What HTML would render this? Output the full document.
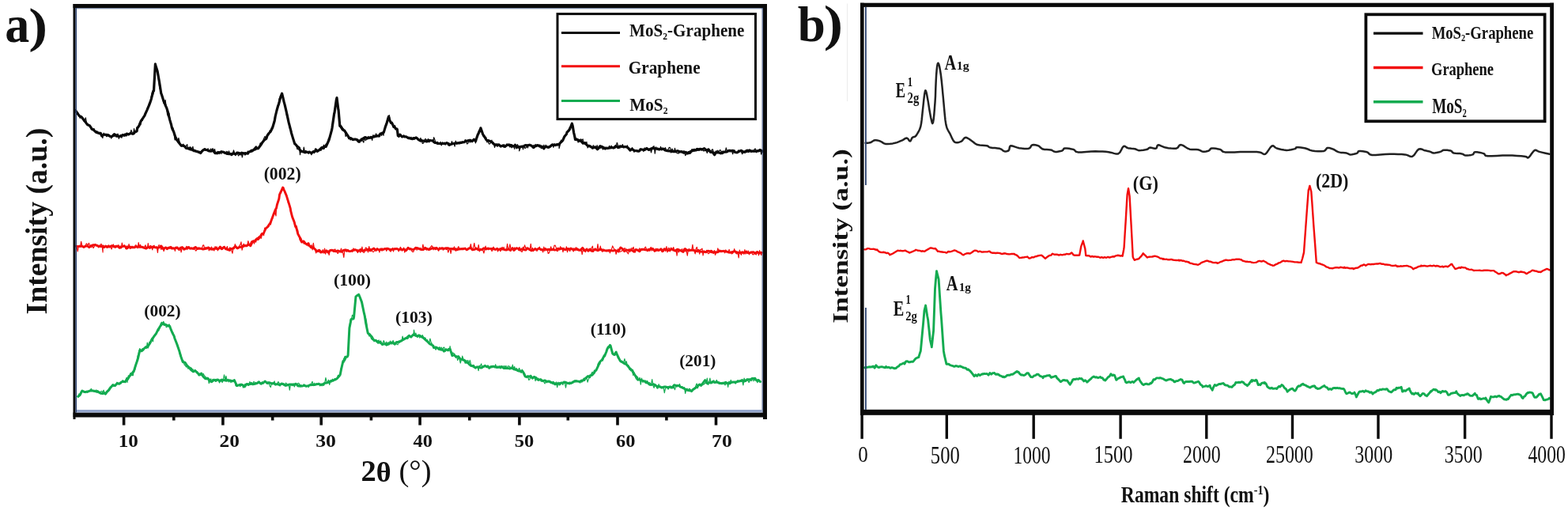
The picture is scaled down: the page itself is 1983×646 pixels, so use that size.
<!DOCTYPE html>
<html><head><meta charset="utf-8"><title>MoS2-Graphene XRD and Raman</title>
<style>html,body{margin:0;padding:0;background:#fff;overflow:hidden;width:1983px;height:646px}svg{display:block}</style>
</head><body>
<svg width="1983" height="646" viewBox="0 0 1983 646"><g fill="none" stroke-linejoin="round" stroke-linecap="round">
<path d="M95.1 139.8L97.7 143.1 100.3 146.4 102.9 147.8 104 149.1 105.5 151 108.1 154.4 110.7 157.8 113.3 158.7 115.5 161.9 115.9 163 118.5 164.4 121.1 166.9 123.7 167.9 126.3 168.6 127.2 168.3 128.9 171.8 131.5 170 134.1 170.3 136.7 170.6 139.3 172.3 141.1 172.7 141.9 172.3 144.5 169.6 147.1 172.2 149.7 172.2 152.3 172.3 154.9 171.2 155 170.5 157.5 171.3 160.1 169.1 162.7 169.9 165.3 168.4 167.9 169.3 169 169 170.5 167.1 173.1 165.8 173.6 162.2 175.7 159.3 178.3 152.9 180.9 149.2 182.9 146.2 183.5 144.5 186.1 138.9 188.7 132.6 189.9 129.4 191.3 125.2 193.9 114.8 194.5 114.8 196.4 80.8 196.5 81.8 199.1 89.9 199.2 90.4 201.7 104.8 203.8 118.3 204.3 119.2 206.9 127.4 209.5 133.8 210.8 136.7 212.1 140.7 214.7 151.4 216.6 157.7 217.3 161.1 219.9 167.2 222.4 175.1 222.5 175.6 225.1 178.8 227.7 182.2 229.4 184.3 230.3 184.1 232.9 184.5 235.5 187.3 238.1 187.4 240.7 189 241 188 243.3 189.6 245.9 190.4 248.5 191.4 251.1 192 252.6 192.6 253.7 193.4 256.3 190.3 258.9 188.7 259.6 189.4 261.5 189.5 264.1 190.7 266.7 191.2 269.3 190 271.9 193.6 274.5 193.6 275.8 192.4 277.1 192.9 279.7 192 280 191.7 282.3 192.3 284.9 193.3 287.5 194.5 290.1 194.7 291.9 194.5 292.7 195.6 295.3 193.7 297.9 195 300.5 193 303.1 193.8 305.5 193.5 305.7 193.2 308.3 193.8 310.9 193.7 313.5 194.2 314 192.5 316.1 191.8 318.7 191 321.3 189.1 323.9 185.9 324.3 187.9 326.5 187.7 329.1 184.3 331 181.5 331.7 180.3 334.3 177 336.9 175.1 337.9 171.7 339.5 169.2 342.1 166.5 344.7 161.3 347.3 152.5 348.1 147.5 349.9 140 351.5 134.2 352.5 131.7 354.9 122.3 355.1 122 356.6 118.2 357.7 122.6 359.1 128.7 360.3 133.2 361.7 139.2 362.9 144.3 365.1 154.7 365.5 156.2 368.1 166.2 368.5 168.1 370.7 175.4 372.8 181.9 373.3 181.9 375.9 185.1 378.5 187.1 378.7 188.9 381.1 191.3 383.7 191.5 385.5 192.7 386.3 191.6 388.9 192.5 391.5 192.2 394.1 193.6 396.7 191.6 399.1 190.9 399.3 188.9 401.9 191.1 404.5 189 407.1 186.4 409.4 187.4 409.7 185 412.3 185.4 414.9 179.5 416.2 176.7 417.5 171.9 419.6 164.2 420.1 161.3 422.7 143.2 423 142.8 425.3 126.4 426 123.6 427.9 138.7 428.1 139.5 429.8 159.3 430.5 159 433.1 163.6 434.9 164.9 435.7 165.1 438.3 169.2 440.9 173.1 441.7 174.6 443.5 174.5 446.1 176.4 448.7 176.1 450.2 176.2 451.3 176.7 453.6 179.1 453.9 178.1 456.5 177.5 459.1 175.2 461.7 173.5 463.8 174.2 464.3 175.1 466.9 174.2 469.5 174.2 472.1 172.8 474 172.1 474.7 172.4 477.3 171.9 479.7 171.9 479.9 170.6 482.5 168.5 485.1 167.6 485.3 167.4 487.7 159.3 488.8 156.6 490.3 151.5 491.6 147.3 492.9 152.1 494.4 155.3 495.5 155.1 498.1 160.5 499.2 160.9 500.7 163.2 502.3 163.3 503.3 171.6 503.4 171.7 505.9 170.1 508.5 173 511.1 172.2 511.8 172.7 513.7 172.9 516.3 174.4 518.9 175 521.5 175.6 522.9 174.6 524.1 174.8 526.7 174.1 529.3 176.7 531.9 178.1 532.7 177.6 534.5 178.1 537.1 178.2 539.7 179 542.3 177.5 544.9 177.7 547.5 177.8 548 178.9 550.1 180.5 552.7 180.7 553.6 181.4 555.3 181.5 557.9 181.7 560.5 181.5 563.1 181.5 565.7 180.8 567.5 181.8 568.3 183.3 570.9 182.1 573.5 181.5 576.1 181 578.7 180.9 581.3 180.9 581.4 180.4 583.9 180.3 586.5 179.8 589.1 178.4 591.7 177.9 594.3 177.2 595.3 177.5 596.9 178.7 599.5 176.3 601.6 178.4 602.1 176.5 604.4 169.9 604.7 169.5 607.3 164.2 607.9 161.8 609.9 167.6 610.7 169.9 612.5 172.5 615.1 177 616.2 177.7 617.7 177.6 620.3 178.8 622.9 180.2 623.2 180.9 625.5 182.8 628.1 182.8 630.7 183 633.3 185.1 635.9 183.9 637.1 185 638.5 185.4 641.1 183.3 643.7 183.1 646.3 183.5 648.9 185 651 184.4 651.5 183.2 654.1 186.2 656.6 186.1 656.7 185.9 659.3 185.3 661.9 185.2 664.5 183.5 667.1 183.8 669.7 183.2 672.3 184.3 672.4 184.4 674.9 186.6 677.5 184.4 680.1 183.6 682.7 185.1 685.3 185 687.9 187.9 688.5 186.4 690.5 185.3 693.1 186.2 695.7 185.3 698.3 183 700.9 183.4 703.5 183.1 706.1 182.8 707 182.6 708.7 180.4 711.3 177.9 712 176.9 713.9 172.5 716.5 169.5 717 167.3 719.1 165.4 720.7 163 721.7 160.5 723.4 156.2 724.3 159.5 725.6 167.5 726.9 173.2 727.5 176.5 729.5 176.6 731.8 177.1 732.1 178.2 734.7 178.1 737.3 181.1 739.3 180.6 739.9 180.5 742.5 183.8 744.2 184.2 745.1 184.4 747.7 186 750.3 186.8 752.9 185.8 755.5 188.8 758.1 186.4 759 184.8 760.7 185.3 763.3 186.5 765.3 188.1 765.9 187.1 768.5 187.3 771.1 186.9 773.7 186.4 776.3 187 777.6 185.6 778.9 184.5 781.5 186.6 784.1 184.8 786.7 185.3 789.3 185.6 790 185.6 791.9 185.5 794.5 187.1 797.1 190.1 798.7 188.6 799.7 188.9 802.3 190.4 804.9 190.6 807.5 191.1 808.6 190.9 810.1 188.7 812.7 189.2 815.3 189.5 817.9 187.5 820.5 189.5 823.1 188.3 824.7 187.5 825.7 187.7 828.3 187.7 830.9 188.3 833.5 188.9 836.1 188.2 838.7 188 839.6 188.6 841.3 190 843.9 190.6 846.5 190.8 849.1 191.1 851.7 191.6 854.3 191.3 854.4 191.5 856.9 190.7 859.5 191.8 862.1 191.6 864.7 193.2 867.3 192.4 869.7 193.9 869.9 193.5 872.5 193.3 875.1 190.5 877.7 189.4 880.3 189.9 881.8 188.3 882.9 189.1 885.5 188.4 888.1 188.9 890.7 187.6 893.3 189.9 895.8 189.4 895.9 188.8 898.5 192.4 901.1 192.2 903.7 195.7 905 193.3 906.3 192.7 908.9 192.8 911.5 193.8 914.1 192.1 916.7 192.1 919.3 191.9 921.9 190.3 923.6 190.9 924.5 190.6 927.1 190.4 929.7 192.5 932.3 192.8 933 192.3 934.9 191.4 937.5 190.3 940.1 192.3 942.7 191.6 945.3 190.1 946.9 191.4 947.9 190 950.5 191.1 953.1 191.1 955.7 191.1 958.3 190.8 960.8 190.4 960.9 189.5 963.5 190.8 966 191.7" stroke="#0a0a0a" stroke-width="3.2"/>
<path d="M95.1 140.5L96.3 138.5 97.5 141.3 98.7 142.4 99.9 145.8 101.1 149.3 102.3 148.3 103.5 147 104 149 104.7 150.1 105.9 153.2 107.1 152.9 108.3 148.9 109.5 155.2 110.7 157.2 111.9 157 113.1 159.6 114.3 161.4 115.5 163 116.7 162.9 117.9 163 119.1 162.7 120.3 166.6 121.5 166.1 122.7 165.7 123.9 167.2 125.1 169.5 126.3 168.2 127.2 169.7 127.5 171.9 128.7 172.3 129.9 174.5 131.1 168.1 132.3 171.1 133.5 169.7 134.7 172.7 135.9 171.6 137.1 172.1 138.3 172.8 139.5 171.4 140.7 175.1 141.1 172.4 141.9 172.8 143.1 171.8 144.3 172.4 145.5 169.3 146.7 169.6 147.9 170.5 149.1 169.1 150.3 175.5 151.5 172 152.7 170.3 153.9 174.3 155 170.5 155.1 169.6 156.3 171.7 157.5 169.1 158.7 171 159.9 172 161.1 170.2 162.3 170.8 163.5 170 164.7 168.7 165.9 164.4 167.1 167.5 168.3 169.3 169 166.8 169.5 162.6 170.7 167 171.9 167.1 173.1 160.7 173.6 162 174.3 161.4 175.5 159.8 176.7 154.5 177.9 157.9 179.1 151.3 180.3 152.4 181.5 148.2 182.7 147.1 182.9 146.9 183.9 144.9 185.1 141.2 186.3 136.5 187.5 134.3 188.7 130.2 189.9 130.7 191.1 122.9 192.3 116.9 193.5 119.8 194.5 114.1 194.7 109.4 195.9 90.9 196.4 80.5 197.1 82.3 198.3 88.1 199.2 90.4 199.5 91.3 200.7 102.1 201.9 111.7 203.1 114.1 203.8 117.4 204.3 119.6 205.5 122.1 206.7 130.5 207.9 130.4 209.1 126.3 210.3 135.9 210.8 137.1 211.5 144.2 212.7 147.5 213.9 143.1 215.1 152.1 216.3 154.6 216.6 157.6 217.5 164.6 218.7 161.2 219.9 167.1 221.1 176.9 222.3 174.9 222.4 175.5 223.5 173.9 224.7 179.8 225.9 174.3 227.1 179.2 228.3 183.8 229.4 184.6 229.5 183.1 230.7 183.4 231.9 182.1 233.1 185.4 234.3 185.5 235.5 184.5 236.7 182.6 237.9 189.1 239.1 187.6 240.3 185.5 241 187 241.5 186.9 242.7 187.8 243.9 185.4 245.1 191.8 246.3 190.7 247.5 189.9 248.7 191.5 249.9 191.8 251.1 193.6 252.3 192.6 252.6 193 253.5 194.6 254.7 190.9 255.9 190 257.1 188.7 258.3 189.2 259.5 187.8 259.6 187.9 260.7 189.7 261.9 190.3 263.1 187.7 264.3 191.8 265.5 189.7 266.7 188.1 267.9 189.9 269.1 187.6 270.3 191.7 271.5 188.5 272.7 193.6 273.9 192.1 275.1 194.9 275.8 192.7 276.3 193.6 277.5 194.6 278.7 192 279.9 194.5 280 191.8 281.1 192.6 282.3 191.3 283.5 193.6 284.7 194.1 285.9 192.4 287.1 191.3 288.3 193.7 289.5 190.9 290.7 194 291.9 194 293.1 193.3 294.3 194 295.5 189.9 296.7 193.4 297.9 196.7 299.1 192.1 300.3 193.8 301.5 197 302.7 195.3 303.9 195.6 305.1 196 305.5 193.3 306.3 198.8 307.5 194.2 308.7 194 309.9 196.2 311.1 194.6 312.3 193.2 313.5 191 314 192.7 314.7 192.2 315.9 190.7 317.1 189.8 318.3 189 319.5 189.9 320.7 188.5 321.9 189.6 323.1 190 324.3 187.9 325.5 186.7 326.7 188.2 327.9 185.6 329.1 180.9 330.3 181.1 331 181.8 331.5 179.5 332.7 178.5 333.9 174.5 335.1 172.4 336.3 175.5 337.5 173.1 337.9 170.7 338.7 170.4 339.9 170.8 341.1 164.8 342.3 165.7 343.5 161.1 344.7 160.8 345.9 156.6 347.1 150.9 348.1 147 348.3 147 349.5 142.7 350.7 135.5 351.5 134.5 351.9 134.6 353.1 124.5 354.3 124.4 354.9 120.8 355.5 120.3 356.6 119.8 356.7 118.4 357.9 124.6 359.1 128.7 360.3 133.4 361.5 137 361.7 140.3 362.7 147.7 363.9 147.2 365.1 155.5 366.3 162 367.5 163.8 368.5 167.8 368.7 167.5 369.9 174.6 371.1 175.8 372.3 178.9 372.8 182.1 373.5 182.1 374.7 183.8 375.9 188.6 377.1 188.1 378.3 187 378.7 188.7 379.5 195.6 380.7 189.5 381.9 192.2 383.1 193.1 384.3 186.2 385.5 192.1 386.7 193.6 387.9 192.3 389.1 193.4 390.3 194.3 391.5 192.9 392.7 193.5 393.9 195.8 395.1 191.2 396.3 192.1 397.5 193.7 398.7 190.1 399.1 191.7 399.9 191 401.1 192.5 402.3 190.3 403.5 188.9 404.7 187.6 405.9 190.4 407.1 187.9 408.3 188.5 409.4 187 409.5 183.2 410.7 185.9 411.9 182.4 413.1 181.9 414.3 180.3 415.5 174.6 416.2 176.4 416.7 174.8 417.9 171.3 419.1 168 419.6 164.4 420.3 159.8 421.5 153.4 422.7 141.5 423 143.5 423.9 135.4 425.1 131.7 426 123.9 426.3 129.2 427.5 136.5 428.1 139.9 428.7 143.5 429.8 159.7 429.9 160.3 431.1 161.8 432.3 160 433.5 161.9 434.7 163.2 434.9 164.8 435.9 164.7 437.1 172.3 438.3 171.4 439.5 170.9 440.7 175.7 441.7 175.1 441.9 174.5 443.1 176.9 444.3 176 445.5 174.8 446.7 177.7 447.9 175.4 449.1 176.2 450.2 176.3 450.3 176.3 451.5 176 452.7 176 453.6 179.2 453.9 179.6 455.1 180.3 456.3 175.1 457.5 175 458.7 178 459.9 180.1 461.1 173.3 462.3 177.6 463.5 175.7 463.8 174 464.7 174.3 465.9 172.4 467.1 175.1 468.3 172.5 469.5 172.3 470.7 177.3 471.9 170.7 473.1 174.2 474 172.1 474.3 173.6 475.5 168.8 476.7 171.7 477.9 171.2 479.1 172.8 479.7 171.1 480.3 168 481.5 169.9 482.7 171.3 483.9 168.3 485.1 171.3 485.3 167 486.3 164.3 487.5 160.1 488.7 155.1 488.8 156.8 489.9 150.4 491.1 147 491.6 147 492.3 145.5 493.5 154.7 494.4 155.2 494.7 156.7 495.9 156.5 497.1 160.8 498.3 160 499.2 161.2 499.5 158.5 500.7 163.3 501.9 161.8 502.3 163.1 503.1 170.1 503.4 171.8 504.3 173.6 505.5 172.5 506.7 170.6 507.9 172.5 509.1 172.7 510.3 170.7 511.5 173.9 511.8 173.6 512.7 173.5 513.9 173.5 515.1 174.3 516.3 175.6 517.5 173.1 518.7 175.8 519.9 173.2 521.1 175.6 522.3 175.8 522.9 174.4 523.5 176.3 524.7 175.9 525.9 173 527.1 175.4 528.3 175.5 529.5 175.4 530.7 177.9 531.9 174.4 532.7 177.8 533.1 176 534.3 181.5 535.5 181 536.7 178.7 537.9 175.4 539.1 176.5 540.3 177.9 541.5 175.5 542.7 179.9 543.9 178.2 545.1 178.3 546.3 178.5 547.5 177.3 548 177.9 548.7 173.6 549.9 176.7 551.1 180.4 552.3 181.8 553.5 180.9 553.6 179.4 554.7 180.8 555.9 181.5 557.1 179.3 558.3 183.8 559.5 179.7 560.7 181.7 561.9 179.9 563.1 183.3 564.3 179.7 565.5 180.4 566.7 183.8 567.5 181.4 567.9 181 569.1 182.8 570.3 182.3 571.5 178.6 572.7 182.5 573.9 180.9 575.1 185.2 576.3 178.2 577.5 182.3 578.7 181.6 579.9 180.1 581.1 179.9 581.4 180.8 582.3 179.3 583.5 179.6 584.7 178.6 585.9 179.9 587.1 180.6 588.3 176.5 589.5 179 590.7 182 591.9 181 593.1 177 594.3 180.1 595.3 177.6 595.5 178.6 596.7 178.3 597.9 178.5 599.1 177.6 600.3 176.7 601.5 181 601.6 179.2 602.7 175 603.9 171.3 604.4 170 605.1 166.2 606.3 163.7 607.5 163.4 607.9 162.3 608.7 163.8 609.9 166.1 610.7 169.6 611.1 172.4 612.3 173.5 613.5 174.1 614.7 173.3 615.9 179.9 616.2 178 617.1 178.7 618.3 181.8 619.5 181.9 620.7 180.4 621.9 177.1 623.1 181.6 623.2 180.7 624.3 180.4 625.5 186.5 626.7 183.2 627.9 184 629.1 185.4 630.3 182.4 631.5 182.1 632.7 183.8 633.9 184.5 635.1 184.7 636.3 185.5 637.1 184.1 637.5 182.5 638.7 184.9 639.9 185.5 641.1 181.8 642.3 184.4 643.5 182.1 644.7 186 645.9 185.1 647.1 186.8 648.3 183.5 649.5 184 650.7 188.4 651 184.8 651.9 185.4 653.1 187.9 654.3 182.6 655.5 184.3 656.6 185.5 656.7 190.8 657.9 187.5 659.1 185.9 660.3 184.1 661.5 188.9 662.7 183.4 663.9 187.5 665.1 186.9 666.3 185.2 667.5 186.9 668.7 182.6 669.9 183.3 671.1 183.6 672.3 184.5 672.4 183.8 673.5 186.9 674.7 183.6 675.9 184 677.1 182.5 678.3 185.6 679.5 184.4 680.7 183.9 681.9 183.2 683.1 183.1 684.3 187.6 685.5 187.2 686.7 186.5 687.9 183.2 688.5 186.5 689.1 186.9 690.3 183.2 691.5 186.6 692.7 186.6 693.9 187.1 695.1 186.6 696.3 183.6 697.5 184.9 698.7 181.9 699.9 186.4 701.1 181.5 702.3 184.7 703.5 182 704.7 181.7 705.9 181.3 707 183.1 707.1 187.6 708.3 183 709.5 177.1 710.7 179.9 711.9 178.6 712 178 713.1 173.8 714.3 173 715.5 171.3 716.7 168 717 167.5 717.9 165.1 719.1 164.4 720.3 160.9 720.7 163.1 721.5 159.7 722.7 157.7 723.4 155.4 723.9 157.6 725.1 165.6 725.6 166.4 726.3 168.8 727.5 176.2 728.7 174.8 729.9 175 731.1 180.1 731.8 177.2 732.3 176.5 733.5 176.6 734.7 175.8 735.9 177.1 737.1 175.8 738.3 181.2 739.3 180.5 739.5 182.5 740.7 181.8 741.9 179.4 743.1 186.9 744.2 184.8 744.3 186 745.5 183.8 746.7 184.1 747.9 184.9 749.1 188.5 750.3 183.6 751.5 187.6 752.7 187.1 752.9 185.3 753.9 188.5 755.1 183.7 756.3 187.3 757.5 184.7 758.7 184 759 183.9 759.9 187.5 761.1 185.3 762.3 189 763.5 188.2 764.7 187.6 765.3 188.5 765.9 187.4 767.1 188.4 768.3 188.3 769.5 187.4 770.7 184.3 771.9 187.7 773.1 184.1 774.3 187.1 775.5 187.7 776.7 187.2 777.6 185.5 777.9 187.5 779.1 185.3 780.3 180.3 781.5 183.6 782.7 187.4 783.9 186.9 785.1 186.7 786.3 184.7 787.5 182.6 788.7 187 789.9 185.5 790 185.4 791.1 185 792.3 185.5 793.5 183.8 794.7 188.4 795.9 189 797.1 189.7 798.3 188 798.7 188.2 799.5 186.6 800.7 188.7 801.9 192.3 803.1 191.2 804.3 189.9 805.5 190.9 806.7 191.7 807.9 190.7 808.6 190.8 809.1 190.9 810.3 189.4 811.5 188.2 812.7 189 813.9 191.6 815.1 186.8 816.3 188.5 817.5 188.3 818.7 188.8 819.9 187.8 821.1 189.6 822.3 187.4 823.5 192.9 824.7 188 825.9 185.3 827.1 184.7 828.3 194.1 829.5 185.8 830.7 187.9 831.9 186.9 833.1 187.7 834.3 189.7 835.5 185.3 836.7 190 837.9 189.4 839.1 188.7 839.6 189.9 840.3 188.1 841.5 186.6 842.7 190 843.9 189.8 845.1 188.7 846.3 186.3 847.5 186.9 848.7 193.1 849.9 188 851.1 190.1 852.3 192.3 853.5 187.4 854.4 191.4 854.7 192.4 855.9 193.3 857.1 193.9 858.3 193.9 859.5 191.9 860.7 191.7 861.9 191.9 863.1 193.3 864.3 190.9 865.5 190.9 866.7 196.7 867.9 194.6 869.1 194.9 869.7 193.1 870.3 191.5 871.5 191.8 872.7 190.7 873.9 190.5 875.1 188.5 876.3 191.7 877.5 190.8 878.7 191.1 879.9 189.4 881.1 187.7 881.8 189.6 882.3 190.2 883.5 189.7 884.7 190.3 885.9 188.3 887.1 190.2 888.3 187.8 889.5 190.8 890.7 190.7 891.9 190.6 893.1 190 894.3 193.5 895.5 189.9 895.8 191.4 896.7 189.1 897.9 191.5 899.1 192.1 900.3 189.2 901.5 188.9 902.7 195.1 903.9 192.2 905 192.8 905.1 191.1 906.3 191.2 907.5 190.1 908.7 192.1 909.9 190 911.1 189.6 912.3 192.1 913.5 194.7 914.7 194.1 915.9 191.5 917.1 192.3 918.3 186.9 919.5 191.2 920.7 189.9 921.9 191.1 923.1 189.2 923.6 190.5 924.3 190.7 925.5 191 926.7 194.8 927.9 190.1 929.1 189.8 930.3 193 931.5 193 932.7 193.4 933 192.2 933.9 189.7 935.1 191.5 936.3 189.9 937.5 191.9 938.7 194.8 939.9 191.3 941.1 191.9 942.3 193.5 943.5 189.4 944.7 192.8 945.9 190.9 946.9 191 947.1 190.7 948.3 189.6 949.5 192.6 950.7 191.3 951.9 190.2 953.1 191.7 954.3 188.3 955.5 188.2 956.7 192.9 957.9 189.6 959.1 191.8 960.3 188.9 960.8 188.8 961.5 188.7 962.7 195.2 963.9 191.8 965.1 190.5 966 191" stroke="#0a0a0a" stroke-width="1.2"/>
<path d="M96 311.2L98.4 311.7 100.8 311.2 103.2 311 105.6 312.2 108 311.3 110.4 310.9 112.8 312.7 115.2 310.6 117.6 309.8 120 309.7 122.4 310.4 124.8 311.4 127.2 311.5 129.6 311.6 130.2 311.1 132 312.2 134.4 311.4 136.8 312.1 139.2 311.6 141.6 310.6 144 311.9 146.4 311.3 148.8 311.2 151.2 313.3 153.6 312.3 156 311.2 158.4 311.7 160.8 314 163.2 311.7 165.6 312.7 168 312.7 170.4 312.7 170.5 312.4 172.8 311.9 175.2 312 177.6 312.4 180 312.3 182.4 313.4 184.8 314.2 187.2 312 189.6 313.4 192 312.1 194.4 312.5 196.8 312.9 199.2 313.3 201.6 312.9 204 311 206.4 314.8 208.8 313.3 210.7 313.4 211.2 314.3 213.6 313.1 216 312.3 218.4 314.1 220.8 314 223.2 312.9 225.6 314.4 228 314 230.4 312.6 232.8 315.2 235.2 313.9 237.6 312.6 240 314.1 242.4 313.8 244.8 314.5 247.2 312.4 249.6 314.6 251 313.9 252 314.3 254.4 314.3 256.8 315 259.2 314.5 261.6 314 264 313.2 266.4 315 268.8 315 271.2 314.4 273.6 314.3 276 314.9 278.4 312 280.8 314.7 283.2 312.2 285.6 314.7 288 315.5 290.4 316.4 291.2 314.5 292.8 314.7 295.2 313.8 297.6 311.4 300 313.7 302.4 312.5 304.8 312.2 307.2 310.8 307.3 311.6 309.6 310.7 312 310.8 314.4 308.9 316.8 310.8 319.2 306.2 321.4 305.5 321.6 305.4 324 302.5 326.4 302.5 328.8 299.5 331.2 295.6 331.4 296.5 333.6 294.5 336 288.8 338.4 286.9 340.8 283.2 341.5 283.1 343.2 278.6 345.6 271.9 348 265.8 349.6 262.8 350.4 258.7 352.8 251.5 353.6 245.8 355.2 242.5 357.6 237.1 360 241.9 362.4 247.6 362.6 248.4 364.8 255.4 367.2 263.3 367.7 266.7 369.6 274.1 372 280.2 373.7 286.6 374.4 286.1 376.8 295.8 379.2 300.1 379.7 302.5 381.6 306.1 384 304.9 386.4 308 388.8 308.9 389.8 310.1 391.2 310.4 393.6 313.1 396 313 398.4 315.1 400.8 317.7 401.9 317.6 403.2 316.4 405.6 319 408 317.8 410.4 318.9 412.8 316.7 415.2 319.2 417.6 316.4 420 316.1 422 317.5 422.4 317.3 424.8 317.8 427.2 316.9 429.6 317.9 432 318.4 434.4 316.5 436.8 315.8 439.2 316.5 441.6 317.6 444 317.4 446.4 316.3 448.8 315.6 451.2 316.4 453.6 317.2 456 315.5 458.4 317.3 460.8 316.2 463.2 316.1 465.6 315.2 468 316.9 470.4 315.6 472.8 314.1 475.2 316.1 477.6 314.9 480 316.2 482.4 315.2 483 314.8 484.8 315.2 487.2 314.6 489.6 314.2 492 315 494.4 315.7 496.8 315 499.2 314.8 501.6 314.4 504 315.4 506.4 315.1 508.8 315.7 511.2 315.1 513.6 316.7 516 313.3 518.4 314.7 520.8 315.2 523.2 315.5 525.6 313.3 528 313.6 530.4 314.6 532.8 315.6 535.2 315.6 537.6 313.2 540 314.7 542.4 315.6 544.8 314.6 547.2 313.6 549.6 313.8 552 313.3 554.4 315.5 556 314.3 556.8 314.1 559.2 313.7 561.6 314.4 564 313.7 566.4 313.6 568.8 314.5 571.2 314.4 573.6 315 576 314.7 578.4 315.7 580.8 314.6 583.2 314.9 585.6 314.9 588 314 590.4 315.8 592.8 314.2 595.2 313.3 597.6 315.9 600 315.4 602.4 314.3 604.8 315.7 607.2 315.7 609.6 315.5 612 313.8 614.4 315.1 616.8 314 619.2 314.4 621.6 314.5 624 314.2 626.4 315.5 628.8 314.3 629 315.2 631.2 315.2 633.6 314.5 636 315.2 638.4 315.7 640.8 316.1 643.2 314.8 645.6 316.6 648 313.8 650.4 316.2 652.8 313.8 655.2 314.1 657.6 316.1 660 314.8 662.4 315.5 664.8 316.1 667.2 313.7 669.6 315.4 672 316.8 674.4 315.8 676.8 315.1 679.2 315.5 681.6 313.9 684 315.7 686.4 316.2 688.8 314.8 691.2 315.6 693.6 315.3 696 315.7 698.4 315.8 700 314.7 700.8 316.1 703.2 315.9 705.6 314.2 708 315 710.4 314 712.8 315.1 715.2 315.7 717.6 314.4 720 314.8 722.4 314.8 724.8 315 727.2 315 729.6 314.8 732 316.3 734.4 315.7 736.8 313.4 739.2 316.9 741.6 315.5 744 316.9 746.4 315 748.8 317.5 751.2 315.8 753.6 315.5 756 316.7 758.4 315.2 760.8 315.5 763 316.6 763.2 316.1 765.6 316.9 768 316.6 770.4 316.7 772.8 316.6 775.2 317.1 777.6 316.4 780 317.4 782.4 317.2 784.8 312.9 787.2 314.7 789.6 317.7 792 315.9 794.4 316.4 796.8 316.1 799.2 316.4 801.6 318.2 804 315.5 806.4 316.2 808.8 317.7 811.2 315.1 813.6 315.3 816 315.8 818.4 316 820.8 316.3 823.2 314.2 825.6 314.5 828 317.4 830.4 315.7 832.8 316.6 835.2 315.5 836 315.1 837.6 317.8 840 314.8 842.4 315.2 844.8 316.7 847.2 316.2 849.6 314.8 852 316.4 854.4 317 856.8 315.1 859.2 316 861.6 317.3 864 318.4 866.4 314.6 868.8 316.2 871.2 316.9 873.6 316.1 876 316.2 878.4 316.7 880.8 317.6 883.2 316.3 885.6 318.1 888 318.2 890.4 318.2 892.8 318.9 895.2 317.1 897.6 317.6 900 318.7 902.4 319 904.8 318.8 907.2 318.9 909 317.9 909.6 316.9 912 317.7 914.4 317.4 916.8 317.8 919.2 318 921.6 319.1 924 319.2 926.4 318.5 928.8 317.5 931.2 318.6 933.6 319.1 936 319.5 938.4 319 940.8 319.6 943.2 318.4 945.6 319.6 948 319.8 950.4 318.9 952.8 318.6 955.2 320.4 957.6 318.5 960 320.1 962.4 319.3 963.4 319.4" stroke="#f20d0d" stroke-width="2.9"/>
<path d="M96 311.9L97.1 311.3 98.2 318 99.3 312.5 100.4 311.8 101.5 312.3 102.6 305.3 103.7 310 104.8 312.3 105.9 313.1 107 312.8 108.1 310.8 109.2 307.9 110.3 308.7 111.4 309.5 112.5 307.4 113.6 310.9 114.7 310.5 115.8 312.8 116.9 309.4 118 313.6 119.1 312 120.2 308.7 121.3 308.9 122.4 309.8 123.5 309.6 124.6 313 125.7 310.2 126.8 309.9 127.9 308.3 129 310.4 130.1 318.9 130.2 310.2 131.2 313.5 132.3 313.2 133.4 310 134.5 312.9 135.6 313.4 136.7 310.3 137.8 309.9 138.9 313.1 140 311.7 141.1 315 142.2 311.9 143.3 308.9 144.4 311.1 145.5 313.4 146.6 312.7 147.7 312.6 148.8 310.6 149.9 309.7 151 313.1 152.1 310.8 153.2 313.8 154.3 307.2 155.4 311.1 156.5 310.6 157.6 309.7 158.7 314.2 159.8 315 160.9 310.6 162 313.4 163.1 308.5 164.2 314.3 165.3 314.1 166.4 311.4 167.5 311.4 168.6 312.6 169.7 313 170.5 312 170.8 310.6 171.9 309.7 173 311.5 174.1 313.8 175.2 306.6 176.3 312.9 177.4 309.3 178.5 311.8 179.6 311.8 180.7 313.7 181.8 312.4 182.9 312.1 184 309.8 185.1 314.5 186.2 314.5 187.3 307.5 188.4 314 189.5 311.1 190.6 310.5 191.7 312.6 192.8 315.9 193.9 310.7 195 310.2 196.1 313.6 197.2 312.1 198.3 311.9 199.4 319.4 200.5 310 201.6 309.9 202.7 310.6 203.8 315.5 204.9 313.6 206 312.3 207.1 317.6 208.2 314.8 209.3 312.2 210.4 312.3 210.7 315.5 211.5 315.6 212.6 314.8 213.7 313.1 214.8 314.3 215.9 313.9 217 315 218.1 314.4 219.2 312.8 220.3 313.5 221.4 317.3 222.5 312.4 223.6 313.8 224.7 312 225.8 316 226.9 316.6 228 312.1 229.1 318.9 230.2 314 231.3 313.9 232.4 313.2 233.5 314.2 234.6 315.6 235.7 311.4 236.8 315.6 237.9 313.2 239 311.6 240.1 313.6 241.2 314.9 242.3 313.5 243.4 314.3 244.5 313.1 245.6 312.7 246.7 315.6 247.8 317.2 248.9 315.6 250 314.3 251 313.5 251.1 313.3 252.2 313.2 253.3 313.7 254.4 313.7 255.5 313.6 256.6 310.2 257.7 309.9 258.8 314.5 259.9 312.7 261 312.9 262.1 313.7 263.2 311.9 264.3 316.9 265.4 314.1 266.5 313.8 267.6 312.1 268.7 315.8 269.8 315.5 270.9 317 272 311.6 273.1 312.7 274.2 311.9 275.3 316.9 276.4 313.1 277.5 314.2 278.6 314.1 279.7 315.4 280.8 315.5 281.9 312.5 283 313.3 284.1 311.3 285.2 315.6 286.3 314.3 287.4 311.5 288.5 316.6 289.6 314.7 290.7 312.8 291.2 314.4 291.8 313.5 292.9 317.1 294 320.2 295.1 312.9 296.2 314.6 297.3 308.7 298.4 312.7 299.5 314.4 300.6 314.7 301.7 314.2 302.8 310.6 303.9 309.2 305 305.8 306.1 316.2 307.2 312.2 307.3 311.2 308.3 308.2 309.4 311.1 310.5 309.5 311.6 310.8 312.7 309.8 313.8 304.6 314.9 308.2 316 309.5 317.1 306.4 318.2 304.8 319.3 304.4 320.4 303.7 321.4 306.8 321.5 308.2 322.6 303.5 323.7 306.1 324.8 300.6 325.9 300.6 327 299.2 328.1 299.2 329.2 299.8 330.3 301.3 331.4 296.9 332.5 294.8 333.6 297.8 334.7 288.2 335.8 291.1 336.9 287.3 338 287.8 339.1 286.7 340.2 286 341.3 281.2 341.5 282.7 342.4 283.8 343.5 276 344.6 276.6 345.7 271 346.8 270.9 347.9 268.5 349 273 349.6 262.6 350.1 259 351.2 255.7 352.3 252.4 353.4 248 353.6 246.1 354.5 245.1 355.6 242.9 356.7 241 357.6 237.3 357.8 236.8 358.9 236.8 360 242.9 361.1 244.2 362.2 247.3 362.6 247.9 363.3 252.2 364.4 256.6 365.5 257.3 366.6 259.9 367.7 266.5 368.8 272.6 369.9 274.5 371 278.4 372.1 278.6 373.2 283.9 373.7 286.8 374.3 288.9 375.4 291.1 376.5 290.3 377.6 298.6 378.7 300.1 379.7 300.8 379.8 300.2 380.9 301.1 382 304.2 383.1 305 384.2 308.3 385.3 305.9 386.4 307.5 387.5 310 388.6 308.1 389.7 306.6 389.8 310.3 390.8 307 391.9 310.8 393 312.1 394.1 309.7 395.2 316 396.3 307.3 397.4 313.8 398.5 315.4 399.6 319.9 400.7 317.2 401.8 316.3 401.9 316.8 402.9 317.1 404 315.4 405.1 316.5 406.2 317.7 407.3 319.9 408.4 315.6 409.5 320.1 410.6 314.1 411.7 321.2 412.8 316.5 413.9 319.3 415 316.8 416.1 322.5 417.2 317.6 418.3 317 419.4 316.4 420.5 316.7 421.6 317.8 422 315.6 422.7 316.4 423.8 314.9 424.9 317.6 426 318.4 427.1 320.5 428.2 319.2 429.3 317.3 430.4 317.5 431.5 314.1 432.6 318.3 433.7 319.4 434.8 325.4 435.9 315.9 437 316.9 438.1 318.3 439.2 317.9 440.3 315.7 441.4 316.9 442.5 318.6 443.6 317.7 444.7 316.6 445.8 318.5 446.9 313.9 448 317.3 449.1 315.3 450.2 315.8 451.3 317.9 452.4 319.5 453.5 317.1 454.6 316.5 455.7 319.2 456.8 317.5 457.9 312.1 459 318.1 460.1 319.5 461.2 318.4 462.3 313.2 463.4 313.4 464.5 316.2 465.6 319 466.7 311.5 467.8 315.9 468.9 314.3 470 317.5 471.1 317.9 472.2 318.6 473.3 317.3 474.4 314.4 475.5 317.6 476.6 313.7 477.7 314.2 478.8 314.9 479.9 319 481 313.9 482.1 316.6 483 315.2 483.2 317.2 484.3 316.1 485.4 316.1 486.5 313.6 487.6 314.4 488.7 317.4 489.8 315.2 490.9 313.9 492 314.4 493.1 317.4 494.2 318.1 495.3 315.8 496.4 313.5 497.5 318 498.6 313.8 499.7 315.2 500.8 315.7 501.9 315 503 314.6 504.1 317.9 505.2 315.5 506.3 312.4 507.4 313.9 508.5 317.3 509.6 314.6 510.7 313.1 511.8 319.1 512.9 315.7 514 314.9 515.1 315.9 516.2 314.2 517.3 315.2 518.4 315.9 519.5 313.8 520.6 317.1 521.7 318.4 522.8 318.5 523.9 314.9 525 315.5 526.1 312.6 527.2 316.2 528.3 313.3 529.4 315.6 530.5 314.8 531.6 313.3 532.7 315.8 533.8 315 534.9 309.2 536 314.1 537.1 315.3 538.2 314.8 539.3 316.2 540.4 313.6 541.5 315 542.6 313.8 543.7 313.4 544.8 312 545.9 310.7 547 311.7 548.1 315.8 549.2 313.7 550.3 315.6 551.4 315.5 552.5 313.3 553.6 314.7 554.7 317.3 555.8 312.7 556 315.1 556.9 314.3 558 315.1 559.1 313.8 560.2 316.1 561.3 315.5 562.4 313.8 563.5 314.7 564.6 315.5 565.7 314.4 566.8 319.1 567.9 315.7 569 314 570.1 320.3 571.2 315.2 572.3 313.8 573.4 314.1 574.5 311.9 575.6 316.1 576.7 317.4 577.8 314.6 578.9 313.3 580 311.7 581.1 315.9 582.2 314.8 583.3 313.7 584.4 314.5 585.5 313.3 586.6 314.5 587.7 314.4 588.8 315.2 589.9 315 591 315.2 592.1 313.4 593.2 314.4 594.3 312.7 595.4 308.7 596.5 314.8 597.6 315.7 598.7 312.5 599.8 307.3 600.9 314 602 312.8 603.1 314.4 604.2 314.6 605.3 309.5 606.4 317.8 607.5 314.2 608.6 315.4 609.7 314.5 610.8 316.5 611.9 320 613 315.4 614.1 311.2 615.2 314.9 616.3 313.8 617.4 315.8 618.5 315 619.6 314.1 620.7 314.2 621.8 317.3 622.9 317 624 312.1 625.1 314.3 626.2 316.2 627.3 314.4 628.4 315.7 629 314.9 629.5 318 630.6 316.4 631.7 314.8 632.8 317.7 633.9 316.3 635 312.3 636.1 314.3 637.2 312.5 638.3 316.6 639.4 315.2 640.5 315.6 641.6 308.3 642.7 315.3 643.8 315.3 644.9 308.9 646 314.3 647.1 315.3 648.2 312.7 649.3 317.4 650.4 312.8 651.5 315.2 652.6 315.1 653.7 314.2 654.8 313.7 655.9 316.6 657 312.3 658.1 315.1 659.2 318 660.3 318.5 661.4 312.4 662.5 314.2 663.6 309.9 664.7 313.7 665.8 313 666.9 313.6 668 313.5 669.1 316.1 670.2 315.2 671.3 308.3 672.4 317.4 673.5 313.3 674.6 317.7 675.7 314.2 676.8 313.4 677.9 314.3 679 317.6 680.1 315.3 681.2 315 682.3 312.1 683.4 315 684.5 314.5 685.6 314.4 686.7 318.9 687.8 312.2 688.9 317.3 690 313.3 691.1 316.1 692.2 316.1 693.3 320.5 694.4 319.7 695.5 316.2 696.6 311.8 697.7 314.9 698.8 315.6 699.9 315.4 700 314.9 701 310.3 702.1 310.1 703.2 312.9 704.3 317.3 705.4 317.4 706.5 315.6 707.6 315.7 708.7 311.6 709.8 315 710.9 313.9 712 318.6 713.1 313 714.2 316.5 715.3 315.1 716.4 311.8 717.5 318.7 718.6 315.1 719.7 316.2 720.8 317.5 721.9 312.8 723 314.7 724.1 315.9 725.2 317.9 726.3 315.4 727.4 316.8 728.5 312.6 729.6 316.7 730.7 314.1 731.8 315.2 732.9 316 734 317.5 735.1 314.7 736.2 321.6 737.3 315.4 738.4 317.1 739.5 315.2 740.6 318.6 741.7 314.2 742.8 314.2 743.9 318.4 745 314.8 746.1 317.4 747.2 317.5 748.3 313.2 749.4 311.2 750.5 318.3 751.6 316.1 752.7 313.7 753.8 316.7 754.9 316.7 756 308.5 757.1 316.5 758.2 316.8 759.3 311.2 760.4 316.4 761.5 318.1 762.6 317.9 763 315.9 763.7 315.2 764.8 316.6 765.9 317.3 767 318 768.1 316.7 769.2 317.9 770.3 315.3 771.4 319.8 772.5 316.1 773.6 314.7 774.7 310.9 775.8 313.2 776.9 315.1 778 315.8 779.1 321.4 780.2 318.4 781.3 314.8 782.4 319.1 783.5 317.6 784.6 318.2 785.7 317.7 786.8 316.7 787.9 314.2 789 315.3 790.1 313.5 791.2 315 792.3 318.5 793.4 319 794.5 320.9 795.6 314.7 796.7 318.6 797.8 314.3 798.9 313.7 800 315 801.1 312.3 802.2 317.3 803.3 319.1 804.4 315.6 805.5 316.2 806.6 316.9 807.7 316 808.8 313.8 809.9 317.2 811 315 812.1 316.5 813.2 314.7 814.3 316 815.4 313.2 816.5 312.1 817.6 315.4 818.7 317.8 819.8 314.5 820.9 314.3 822 317.1 823.1 312.3 824.2 317 825.3 315.7 826.4 315 827.5 316 828.6 315.3 829.7 314.1 830.8 317.1 831.9 314.2 833 316 834.1 315.4 835.2 314.4 836 314 836.3 316.2 837.4 315.1 838.5 318.2 839.6 317.4 840.7 315.1 841.8 317.7 842.9 311.7 844 319 845.1 313.6 846.2 313.7 847.3 318 848.4 313.2 849.5 314.8 850.6 316.7 851.7 312.5 852.8 315.9 853.9 317.9 855 315 856.1 323.1 857.2 314.8 858.3 318.9 859.4 317.1 860.5 316.7 861.6 316.1 862.7 314.7 863.8 318.4 864.9 314.5 866 316.6 867.1 317.9 868.2 317.5 869.3 323.2 870.4 315.6 871.5 314.5 872.6 317.2 873.7 316.6 874.8 316.1 875.9 309.3 877 316.9 878.1 317.7 879.2 320.9 880.3 314.1 881.4 312.4 882.5 319 883.6 315.9 884.7 321.1 885.8 315.4 886.9 315.4 888 314.1 889.1 322.9 890.2 316.9 891.3 319.5 892.4 319.5 893.5 316.4 894.6 318.5 895.7 320.8 896.8 320 897.9 319.4 899 316.3 900.1 316.5 901.2 317.8 902.3 320.5 903.4 316.5 904.5 322.3 905.6 319.9 906.7 319.3 907.8 313.9 908.9 316.8 909 318.4 910 317.4 911.1 318.7 912.2 317.2 913.3 317.1 914.4 317.3 915.5 316.3 916.6 319.9 917.7 315.8 918.8 318.9 919.9 317.5 921 319.2 922.1 315.4 923.2 318.4 924.3 318.5 925.4 321 926.5 320.3 927.6 319.2 928.7 314.6 929.8 318.7 930.9 320.4 932 321 933.1 319.7 934.2 325.9 935.3 316 936.4 320.5 937.5 322.3 938.6 319 939.7 317.8 940.8 321.4 941.9 315.6 943 321.1 944.1 316.9 945.2 319.9 946.3 317 947.4 321.8 948.5 319.2 949.6 318.1 950.7 319.2 951.8 321.7 952.9 322 954 319.7 955.1 318.9 956.2 322.1 957.3 319.7 958.4 318.4 959.5 322.9 960.6 316.7 961.7 320.1 962.8 322.5 963.4 319.8" stroke="#f20d0d" stroke-width="1.2"/>
<path d="M98.7 501.2L101.3 499.2 103 495.5 103.9 494 106.5 495.4 109.1 495.3 111.7 494.7 113.8 494.1 114.3 494 116.9 494 119.5 494.3 122.1 495.2 124.7 495.6 127.3 497.2 129.9 497.6 132.5 496.7 133.4 498.1 135.1 495.7 137.7 493.2 139.9 489.6 140.3 489.6 142.9 486.6 145.5 487.6 148.1 484.7 150.7 485.3 153.3 483.1 155.9 482.2 158.5 482.7 161.1 478.3 161.5 479.5 163.7 475.8 166.3 473 168.9 469.4 169.1 469.9 171.5 462 174.1 454.4 174.6 452.6 176.7 443.3 179.3 443.7 181.9 441 184.5 438.5 185.4 439.3 187.1 437.7 189.7 433.9 192.3 428.5 194 426.5 194.9 425.2 197.5 421.6 200.1 416.3 200.6 415.8 202.7 412.3 205.3 409.3 206 409.2 207.9 410.4 210.5 410.8 213.1 412.3 214.7 412.4 215.7 415.3 218.3 421.5 220 424.4 220.9 427.7 223.5 434.3 226.1 441.8 226.6 443.1 228.7 450.5 230.9 456.7 231.3 457.7 233.9 458.2 236.5 462 239.1 464.5 241.7 466 241.8 467.9 244.3 469.8 246.9 468.7 249.5 471.3 252.1 473.5 254.7 472 254.8 472.8 257.3 476.5 259.9 478.8 262.5 478.1 265.1 480.5 265.6 481.8 267.7 482.7 270.3 480.3 272.9 480.5 275.5 480 278.1 481.7 280.7 480.1 283.3 480.8 285.1 480.3 285.9 481.3 288.5 480.8 291.1 481 293.7 481.9 296 481.2 296.3 480.6 298.9 486.2 299.2 487.4 301.5 487 304.1 486.3 306.7 486.5 309.3 488.9 311.9 485.6 314.5 485.8 317.1 485.5 317.6 484.9 319.7 485.8 322.3 485.3 324.9 484.6 327.5 482.8 328.5 484.2 330.1 484.7 332.7 484.1 335.3 482 337.9 484.5 340.5 483.7 343.1 484.7 344.8 484.8 345.7 484.3 348.3 486.1 350.9 485.5 353.5 486.7 356.1 485 358.7 485.8 361.3 487.4 363.9 486.7 366.5 485.9 369.1 486 371.7 486.4 374.3 485.2 376.9 487.9 379.4 487.5 379.5 488.2 382.1 488.1 384.7 487.4 387.3 488.2 389.9 487.6 392.5 486.7 395.1 486.6 397.7 486.6 400.3 485.9 402.9 485.2 405.5 486.3 406.7 486 408.1 486.2 410.7 484.3 413.3 484 415.9 483.1 418.5 481.6 421.1 481.3 423.7 479.6 424 479.9 426.3 478.5 428.9 475.5 430.2 473.7 431.5 467 433.9 456.6 434.1 458 436.7 451.3 439.3 451 440.1 449.1 441.9 414.6 443.8 405.2 444.5 403.3 447.1 402.9 447.6 400.6 449.7 377.8 450 374.9 452.3 373.2 453.7 372.3 454.9 375 457.5 381.9 460.1 394.4 461.2 399.1 462.7 408.7 464.9 419.4 465.3 421.3 467.9 423.1 470.5 426.5 471.1 428.6 473.1 430 475.7 430.5 478.3 433.2 478.5 432.5 480.9 432.4 483.5 435.5 486.1 434.6 488.4 435.6 488.7 436.1 491.3 435.2 493.9 433.2 496.5 433 499.1 435.1 501.7 432.4 504.3 432.3 505.8 431.7 506.9 431.1 509.5 429.7 512.1 428.1 514.7 426.8 517.3 424.2 519.9 426.1 522.5 423.3 523.1 422.7 525.1 424.1 527.7 425 530.3 424 532.9 425.6 535.5 427.1 538.1 429.6 540.7 431.8 543.3 434.6 545.9 436 547.9 437 548.5 439.5 551.1 439 553.7 440.1 556.3 441.7 558.9 442.2 560.2 442.3 561.5 444.1 564.1 441.8 566.7 443 568.7 441.1 569.3 441.6 571.9 449.6 572.1 448.6 574.5 449.1 577.1 451.1 579.7 450.6 582.3 454.1 584.1 454.3 584.9 454.8 587.5 455.5 590.1 458.2 592.6 458.9 592.7 459.9 595.3 462.2 597.9 462.8 600.5 464.5 601.1 464.8 603.1 464 605.7 464.1 608.3 465.1 610.9 463.6 613.5 462.5 616.1 463.8 618.1 464 618.7 465.3 621.3 463.4 623.9 463.2 626.5 464.1 629.1 463.9 631.7 464.2 634.3 463.5 635.2 464 636.9 465.5 639.5 465.6 642.1 465.4 644.7 466.1 645.4 465.5 647.3 464.9 649.9 466.7 652.5 467.2 655.1 468.8 657.7 469.3 660.3 469 660.7 469 662.9 472.6 664.1 475.8 665.5 476.2 668.1 476 670.7 475.8 673.3 478.1 675.9 476.5 677.8 478 678.5 478.9 681.1 480.4 683.7 479.6 686.3 481.6 688.9 480.9 691.5 482.3 694.1 481.9 696.7 483.2 699.3 484 701.9 485.8 703.3 485.5 704.5 484.9 707.1 484.8 709.7 484.1 712.3 483.8 714.9 483.1 717.5 484.3 720.1 484.9 720.4 484.1 722.7 484.2 725.3 482.4 727.9 482 730.5 481.9 733.1 482.6 735.7 480.9 737.4 481.1 738.3 480.1 740.9 477.9 743.5 475.6 745.9 476.6 746.1 474.9 748.7 474.2 751.3 471.5 752.7 468.8 753.9 468.2 756.5 462.7 757.8 458.9 759.1 457 761.7 454.5 764.3 449.4 764.6 450.1 766.9 444.5 768 441 769.5 439.3 771.5 436.4 772.1 437.1 774.7 446.9 775.8 447.9 777.3 448.5 779.2 445.1 779.9 447.2 782.5 452.6 784.3 456.2 785.1 456.9 787.7 458.2 790.3 460 791.1 459.7 792.9 461.5 795.5 464.5 798.1 467.9 799.6 468.1 800.7 470.6 803.3 474.8 805.9 477.6 806.4 479.9 808.5 480.1 811.1 480.5 813.7 482 816.3 481.9 816.7 483.6 818.9 483.8 821.5 486.2 824.1 486.4 826.7 485.8 829.3 487.6 831.9 488.7 834.5 488.9 837.1 490.2 839.7 489.1 842.3 489.1 844.9 489.7 847.5 488.9 850.1 489.9 852.7 486.7 855.3 487.6 857.9 487.6 859.3 488.1 860.5 489.2 863.1 490.1 865.7 491.4 868.3 493.1 870.9 493.5 873.5 493.9 874.6 494.6 876.1 492.7 878.7 490.9 881.3 489.3 883.9 486.4 884.8 486 886.5 487.3 889.1 484.1 891.7 480.6 894.3 484.7 896.9 483.7 899.5 483.8 901.8 482.6 902.1 482.7 904.7 483.2 907.3 482.9 909.9 484.6 912.5 484.6 915.1 484.3 917.7 483.3 918.9 484.2 920.3 484.3 922.9 484.7 925.5 483.3 928.1 483 930.7 483.1 933.3 482.3 935.9 481.8 938.5 480.5 941.1 482.1 943.7 480.6 946.3 479.8 948.9 479.8 951.5 478.3 952.9 478.8 954.1 478.2 956.7 481 959.3 480.6 961.5 482.6" stroke="#13ab50" stroke-width="3.0"/>
<path d="M98.7 502.3L99.9 497.8 101.1 498.7 102.3 496.2 103 495.3 103.5 494.6 104.7 494.6 105.9 495.1 107.1 495.7 108.3 496.6 109.5 495 110.7 496.3 111.9 495 113.1 494.2 113.8 493.9 114.3 492.4 115.5 491.5 116.7 494.2 117.9 494.3 119.1 495.3 120.3 495.5 121.5 493 122.7 494.1 123.9 493.6 124.7 496.2 125.1 495.5 126.3 496.2 127.5 494.8 128.7 494.5 129.9 495.9 131.1 493.2 132.3 498.3 133.4 497.1 133.5 498.2 134.7 494.6 135.9 493.6 137.1 492.3 138.3 490.5 139.5 490.4 139.9 489.6 140.7 489.3 141.9 487.4 143.1 488.5 144.3 488 145.5 488.3 146.7 486.8 147.9 483.2 149.1 484.1 150.3 484.3 150.7 485.3 151.5 484.2 152.7 485.3 153.9 483.7 155.1 480.6 156.3 482.1 157.5 482.3 158.7 481.5 159.9 477.7 161.1 483.5 161.5 479.2 162.3 474.8 163.5 475.8 164.7 471.9 165.9 471.6 167.1 474.6 168.3 474.7 169.1 469.3 169.5 469 170.7 467.7 171.9 461.3 173.1 455.4 174.3 449.1 174.6 451.4 175.5 444.8 176.7 440.7 177.9 441.9 179.1 442.5 180.3 440.4 181.5 443 182.7 440.5 183.9 440.4 185.1 440.2 185.4 439.1 186.3 433.2 187.5 440 188.7 432.7 189.9 432.8 191.1 431.6 192.3 428 193.5 431.8 194 425.5 194.7 424.4 195.9 423.2 197.1 423.1 198.3 420.8 199.5 416.2 200.6 414.9 200.7 418.4 201.9 415.3 203.1 409.2 204.3 407.2 205.5 408 206 408.7 206.7 406.3 207.9 408.9 209.1 409.2 210.3 413.8 211.5 412.8 212.7 411.8 213.9 409.8 214.7 411.4 215.1 412.2 216.3 417.8 217.5 420.1 218.7 420.2 219.9 425.9 220 424.4 221.1 426.3 222.3 431.7 223.5 434.3 224.7 436.1 225.9 440.8 226.6 443.8 227.1 447.4 228.3 447 229.5 452.8 230.7 456.1 230.9 456.7 231.9 455.6 233.1 461 234.3 462.2 235.5 464 236.7 463.2 237.9 466.2 239.1 465.8 240.3 467.7 241.5 466.7 241.8 467.7 242.7 467.4 243.9 466.6 245.1 470.5 246.3 467.5 247.5 468 248.7 469.8 249.9 469.9 251.1 474.9 252.3 474.9 253.5 474.3 254.7 474.3 254.8 472.5 255.9 474.3 257.1 472.3 258.3 474.7 259.5 475.9 260.7 477.1 261.9 480.1 263.1 478.3 264.3 484.7 265.5 480.7 265.6 482.1 266.7 478.9 267.9 483 269.1 479.3 270.3 481.6 271.5 481.2 272.7 482.5 273.9 482 275.1 479.6 276.3 480.5 277.5 484 278.7 479.8 279.9 480.5 281.1 483.6 282.3 480.5 283.5 473.8 284.7 479.4 285.1 480.3 285.9 475.3 287.1 481 288.3 479.3 289.5 482.9 290.7 480.3 291.9 483.6 293.1 481.6 294.3 480.6 295.5 482.6 296 481.6 296.7 480.2 297.9 487 299.1 488.4 299.2 486.5 300.3 488.5 301.5 486.6 302.7 487.3 303.9 488.7 305.1 485.1 306.3 486.2 307.5 490.2 308.7 486.9 309.9 485.3 311.1 485.9 312.3 485.8 313.5 487.2 314.7 487.4 315.9 482.5 317.1 485.5 317.6 484.1 318.3 483.6 319.5 485.7 320.7 482.5 321.9 483.2 323.1 483.5 324.3 484.7 325.5 484.7 326.7 484.7 327.9 483 328.5 483.4 329.1 484.5 330.3 486.3 331.5 482.6 332.7 485.2 333.9 482.8 335.1 482.6 336.3 483.4 337.5 484.3 338.7 482.9 339.9 483.2 341.1 487.9 342.3 489.5 343.5 484.2 344.7 486 344.8 485.3 345.9 485.5 347.1 481.9 348.3 486.8 349.5 485.7 350.7 484.9 351.9 482.6 353.1 484.4 354.3 488 355.5 485.2 356.7 486.1 357.9 485.1 359.1 487.6 360.3 487 361.5 484.1 362.7 485.1 363.9 486.9 365.1 485.4 366.3 493.2 367.5 485.6 368.7 487 369.9 487.7 371.1 484.8 372.3 489 373.5 486.5 374.7 485.8 375.9 485.9 377.1 484.3 378.3 484.9 379.4 487.5 379.5 487.1 380.7 486.8 381.9 487.5 383.1 488.1 384.3 485.7 385.5 486.7 386.7 487.4 387.9 488.6 389.1 487.3 390.3 489.6 391.5 486.4 392.7 486.1 393.9 484.3 395.1 482.4 396.3 487.6 397.5 484.2 398.7 486.1 399.9 484.7 401.1 485.3 402.3 485.5 403.5 486 404.7 487.9 405.9 486.9 406.7 486.5 407.1 487.9 408.3 484.7 409.5 487.3 410.7 484.7 411.9 477.5 413.1 482.7 414.3 483.2 415.5 480.3 416.7 486.4 417.9 482 419.1 483.1 420.3 479.2 421.5 481 422.7 480.8 423.9 478.7 424 480.1 425.1 478.8 426.3 478.2 427.5 474.3 428.7 476 429.9 473.4 430.2 473.2 431.1 465.7 432.3 463.5 433.5 457.6 433.9 457.6 434.7 453.3 435.9 456.5 437.1 454.6 438.3 451.8 439.5 450.1 440.1 449.2 440.7 434.8 441.9 413.8 443.1 403.5 443.8 403.5 444.3 404.2 445.5 398.3 446.7 399.3 447.6 400.1 447.9 394.7 449.1 385.3 450 374.9 450.3 374.4 451.5 373 452.7 373.3 453.7 371.9 453.9 372.8 455.1 376.4 456.3 378.5 457.5 381.9 458.7 387.7 459.9 393.3 461.1 400 461.2 398.6 462.3 401.2 463.5 406.1 464.7 418.9 464.9 418.6 465.9 422.8 467.1 425.1 468.3 423.4 469.5 428.4 470.7 424.9 471.1 429.1 471.9 426.7 473.1 431.9 474.3 429.6 475.5 432.1 476.7 430.9 477.9 430.5 478.5 433.1 479.1 429.9 480.3 434.4 481.5 430.8 482.7 434.5 483.9 435 485.1 430.6 486.3 432.6 487.5 433.8 488.4 435 488.7 432.2 489.9 434.9 491.1 432.7 492.3 434.3 493.5 431 494.7 434.9 495.9 434.8 497.1 430.4 498.3 433 499.5 435.3 500.7 433.9 501.9 435.2 503.1 435.8 504.3 430.8 505.5 433.1 505.8 432 506.7 430.4 507.9 431.5 509.1 425.1 510.3 429.3 511.5 428.9 512.7 427.4 513.9 427.6 515.1 428.6 516.3 427.8 517.5 424.5 518.7 426.3 519.9 426.4 521.1 424 522.3 423.9 523.1 421.7 523.5 417 524.7 423.9 525.9 421.1 527.1 425.4 528.3 426.3 529.5 423 530.7 427.1 531.9 425.1 533.1 426.2 534.3 423.5 535.5 426.5 536.7 427.6 537.9 427 539.1 430.2 540.3 429.5 541.5 433.6 542.7 434.1 543.9 428 545.1 432.6 546.3 434.3 547.5 438.9 547.9 437.2 548.7 440 549.9 440.2 551.1 442.2 552.3 439.9 553.5 439.9 554.7 442.3 555.9 438.6 557.1 441.1 558.3 439.1 559.5 442 560.2 440.9 560.7 439.4 561.9 439.1 563.1 444.3 564.3 441 565.5 442.4 566.7 440.9 567.9 440.4 568.7 441.5 569.1 437.6 570.3 443.9 571.5 445.7 572.1 448.1 572.7 445.9 573.9 446.7 575.1 447.8 576.3 452.3 577.5 449.9 578.7 455.5 579.9 451.9 581.1 453.9 582.3 459 583.5 454.3 584.1 454.4 584.7 450.2 585.9 453.8 587.1 456.2 588.3 459.3 589.5 455.9 590.7 456.2 591.9 455.6 592.6 458.8 593.1 460 594.3 455.3 595.5 460 596.7 463.4 597.9 462.3 599.1 461.3 600.3 463.3 601.1 465.3 601.5 466 602.7 464.2 603.9 463.3 605.1 468.6 606.3 462.4 607.5 462.6 608.7 459.9 609.9 465.2 611.1 464.1 612.3 463.8 613.5 461.3 614.7 463.9 615.9 462.5 617.1 461.8 618.1 463.7 618.3 464.2 619.5 463.5 620.7 462.9 621.9 464.9 623.1 464.1 624.3 463.1 625.5 464.7 626.7 460.7 627.9 465.3 629.1 465.1 630.3 465 631.5 462.7 632.7 465.9 633.9 465.4 635.1 462.8 635.2 464.5 636.3 464.1 637.5 462.4 638.7 464.2 639.9 462.3 641.1 466.6 642.3 462.8 643.5 462.8 644.7 463.8 645.4 465.5 645.9 465.9 647.1 466.4 648.3 461.1 649.5 466.1 650.7 463.5 651.9 468 653.1 465.4 654.3 467.3 655.5 467.5 656.7 465.4 657.9 468.8 659.1 471.5 660.3 467.2 660.7 468.7 661.5 471.1 662.7 474.9 663.9 473.8 664.1 476.6 665.1 476.4 666.3 477.7 667.5 474.7 668.7 480.4 669.9 479.8 671.1 474.2 672.3 475.3 673.5 477.4 674.7 475.9 675.9 476.2 677.1 481.7 677.8 477.1 678.3 476.6 679.5 478.5 680.7 478 681.9 479.8 683.1 479.6 684.3 482.2 685.5 481.1 686.3 482.4 686.7 480.7 687.9 483.1 689.1 484.9 690.3 482.5 691.5 483.8 692.7 481.9 693.9 482 695.1 483.6 696.3 484.3 697.5 484.4 698.7 485.2 699.9 482.2 701.1 484.4 702.3 483.8 703.3 485.1 703.5 482.8 704.7 489.7 705.9 483.1 707.1 487 708.3 486.7 709.5 485.2 710.7 483.9 711.9 486.5 713.1 481.9 714.3 484.1 715.5 490.1 716.7 483.5 717.9 484.6 719.1 483.5 720.3 485.2 720.4 484.5 721.5 485.2 722.7 484.5 723.9 484.1 725.1 483.9 726.3 480.9 727.5 481.2 728.7 480.6 729.9 482.4 731.1 482.4 732.3 481.4 733.5 484.1 734.7 482.1 735.9 483.2 737.1 481 737.4 480.2 738.3 478 739.5 481.4 740.7 478.9 741.9 477.3 743.1 483.1 744.3 479.5 745.5 476.6 745.9 476.4 746.7 474.5 747.9 472.4 749.1 470.2 750.3 473.7 751.5 468.2 752.7 469.6 753.9 467.5 755.1 465.9 756.3 459.5 757.5 459.8 757.8 459.2 758.7 460.7 759.9 456.4 761.1 453.9 762.3 456.2 763.5 452 764.6 450.7 764.7 450.5 765.9 446.4 767.1 444.6 768 441.2 768.3 438.2 769.5 437.7 770.7 438.3 771.5 436 771.9 436.4 773.1 441.6 774.3 444 775.5 448.7 775.8 447.9 776.7 447.5 777.9 445.6 779.1 444.9 779.2 445 780.3 449.2 781.5 452.7 782.7 454.4 783.9 455.7 784.3 456.1 785.1 457 786.3 456.2 787.5 457.7 788.7 457.8 789.9 453.7 791.1 458.4 792.3 456.9 793.5 463 794.7 461.4 795.9 467.2 797.1 465.8 798.3 465.8 799.5 470.3 799.6 467.6 800.7 474.4 801.9 470.9 803.1 475.8 804.3 478.7 805.5 479.6 806.4 480.7 806.7 479 807.9 480.3 809.1 477.3 810.3 486.2 811.5 478.1 812.7 483.1 813.9 480.7 815.1 481.9 816.3 483.2 816.7 483.2 817.5 484.7 818.7 481.4 819.9 485.3 821.1 483.3 822.3 484.7 823.5 485.6 824.7 479.6 825.9 487.2 827.1 490.4 828.3 486.2 829.5 486.2 830.7 490.6 831.9 491.2 833.1 485.6 834.3 488.7 835.5 488.4 836.7 490.4 837.1 490.2 837.9 488.5 839.1 489.3 840.3 496.7 841.5 491.1 842.7 490 843.9 490.5 845.1 492.1 846.3 489.9 847.5 489.4 848.7 491.1 849.9 489.2 851.1 490.8 852.3 489.2 853.5 492.7 854.7 487.4 855.9 489.3 857.1 487.5 858.3 486.6 859.3 487.4 859.5 485.4 860.7 489.2 861.9 488.5 863.1 488.9 864.3 491.2 865.5 489.7 866.7 497.3 867.9 492 869.1 491.1 870.3 494.2 871.5 491.3 872.7 491.8 873.9 493.3 874.6 494.2 875.1 493.4 876.3 491.8 877.5 490.9 878.7 491.6 879.9 487.8 881.1 484.9 882.3 490.8 883.5 487.2 884.7 486.3 884.8 486.6 885.9 487.6 887.1 487.9 888.3 486.8 889.5 486.3 890.7 485.6 891.9 484.3 893.1 484.1 894.3 478.2 895.5 486.5 896.7 483.4 897.9 478.1 899.1 485 900.3 481.7 901.5 483.2 901.8 482.2 902.7 480.7 903.9 484.6 905.1 483.1 906.3 480.4 907.5 484.2 908.7 484.7 909.9 482.9 911.1 484.6 912.3 485.7 913.5 485.6 914.7 484.9 915.9 485.2 917.1 486.8 918.3 484.6 918.9 484.2 919.5 483.7 920.7 489.3 921.9 482.2 923.1 483.7 924.3 480.4 925.5 483.2 926.7 482.8 927.9 482.8 929.1 484 930.3 485 931.5 482.8 932.7 480.9 933.9 481.2 935.1 481.9 935.9 481.4 936.3 481.6 937.5 482.4 938.7 481.7 939.9 486.8 941.1 478.2 942.3 481 943.5 482.3 944.7 478.6 945.9 481 947.1 483.5 948.3 481.4 949.5 480.6 950.7 481.5 951.9 477.7 952.9 478.6 953.1 481.8 954.3 479.9 955.5 477.5 956.7 480.4 957.9 483.7 959.1 479.8 960.3 482.3 961.5 481.4" stroke="#13ab50" stroke-width="1.2"/>
<path d="M1094.6 180.8L1095.7 180.8 1097.2 180.7 1098.9 180.6 1100.5 180.3 1101.9 179.6 1103.3 178.7 1104.8 177.8 1106.3 177.3 1107.9 177.3 1109.7 177.5 1111.4 177.9 1113.2 178.5 1114.8 179.3 1116.4 180.4 1118.1 181.4 1120.2 182 1122.8 182.1 1125.9 181.8 1129 181.4 1131.8 180.8 1134.4 180.1 1136.8 179.2 1139.1 178.2 1141.1 177.3 1142.8 176.4 1144.3 175.4 1145.7 174.7 1146.9 174.5 1148 175.2 1149.1 176.6 1150 178 1150.9 178.5 1151.7 177.9 1152.4 176.5 1153.1 175 1153.9 173.8 1154.9 173.3 1156 173.1 1157.2 172.7 1158.5 171.5 1159.9 169.4 1161.5 166.7 1163.1 163.5 1164.3 159.9 1165.1 155.8 1165.7 151.2 1166.2 146.3 1166.7 141.3 1167.3 135.9 1167.9 130.1 1168.5 124.6 1169 120.4 1169.5 117.5 1169.9 115.4 1170.3 114.4 1170.8 114.6 1171.4 116.3 1172.1 119.3 1172.8 123.2 1173.6 127.4 1174.4 132.4 1175.3 138.2 1176.3 143.9 1177.1 148.3 1177.9 151.8 1178.6 154.7 1179.2 156.1 1179.9 155.2 1180.6 151.3 1181.3 145.1 1181.9 137.5 1182.5 129.7 1183 121.2 1183.3 111.6 1183.7 102.4 1184.1 94.8 1184.6 88.9 1185.1 84.1 1185.7 80.9 1186.4 79.7 1187.2 80.9 1188.1 84.1 1189 88.9 1189.9 94.8 1190.8 102.3 1191.7 111.4 1192.6 121 1193.4 129.7 1194.1 137.5 1194.8 145.1 1195.5 151.9 1196.4 157.6 1197.5 161.7 1198.8 164.5 1200.1 166.8 1201.5 169.2 1202.8 172.1 1204.2 175.2 1205.7 177.8 1207.3 179.6 1209.2 180.3 1211.3 180.2 1213.5 179.6 1215.4 178.9 1217 177.7 1218.3 176 1219.6 174.5 1221.2 173.8 1223.1 174.3 1225.2 175.5 1227.4 177.1 1229.4 178.5 1231.1 179.7 1232.6 181 1234.3 182.2 1236.3 183.1 1239.1 183.6 1242.3 183.8 1245.5 184 1248 184.3 1249.5 184.8 1250.3 185.5 1251.1 186.1 1252.6 186.6 1255.1 186.9 1258.3 187.1 1261.5 187.4 1264.2 187.8 1266.1 188.6 1267.5 189.6 1268.7 190.6 1270 191.2 1271.5 191.4 1273.1 191.2 1274.6 190.8 1275.8 190.1 1276.4 188.8 1276.7 186.9 1277.1 185.2 1278.2 184.3 1280.3 184.5 1282.9 185.4 1285.9 186.4 1288.9 187.2 1292 187.6 1295.4 187.9 1298.6 188 1301.1 187.7 1302.7 186.8 1303.6 185.5 1304.3 184.1 1305.5 183.3 1307.3 183.1 1309.3 183.3 1311.4 183.8 1313.3 184.4 1314.7 185.3 1315.9 186.5 1317.2 187.7 1318.8 188.6 1321.1 189 1323.8 189.1 1326.5 189.2 1328.8 189.4 1330.4 190 1331.7 190.8 1332.9 191.5 1334.4 191.9 1336.5 191.9 1338.9 191.5 1341.3 191.1 1343.2 190.5 1344.2 189.8 1344.8 188.8 1345.3 188 1346.6 187.5 1349 187.5 1352 187.8 1355.1 188.4 1357.7 189 1359.1 189.8 1359.8 190.9 1360.8 191.8 1363.2 192.4 1367.7 192.4 1373.6 192 1379.9 191.5 1385.4 191.3 1390 191.4 1394.3 191.5 1398.3 191.8 1402 192.2 1405.5 192.9 1408.7 193.9 1411.6 194.6 1414.2 194.4 1416.3 192.6 1418 189.7 1419.4 186.8 1420.9 185 1422.3 184.8 1423.5 185.4 1424.8 186.5 1426.4 187.2 1428.5 187.5 1430.8 187.8 1433.2 188 1435.3 188.3 1436.8 188.8 1438 189.4 1439.3 189.9 1440.9 190.2 1443.2 190.1 1446 189.8 1448.7 189.3 1450.8 188.8 1452 188.2 1452.6 187.5 1453.2 186.9 1454.2 186.6 1455.9 186.8 1458.1 187.3 1460.2 187.7 1461.9 187.7 1462.8 186.8 1463.2 185.4 1463.7 184 1464.7 183.3 1466.5 183.6 1468.7 184.6 1471.3 185.7 1474.1 186.6 1477.4 187.2 1481.1 187.6 1484.7 187.8 1487.5 187.7 1489.2 186.9 1490.3 185.6 1491 184.4 1491.9 183.5 1492.8 183.2 1493.7 183.1 1494.7 183.4 1496 183.9 1497.8 184.9 1499.8 186.3 1502.1 187.7 1504.5 188.7 1507.2 189.1 1510.1 189.1 1513 189.1 1515.4 189.3 1517.2 189.9 1518.7 190.7 1520 191.4 1521.5 191.8 1523.3 191.8 1525.2 191.5 1527.1 191 1528.7 190.5 1529.7 189.8 1530.3 188.8 1531.1 188 1532.4 187.5 1534.7 187.5 1537.7 187.8 1540.8 188.4 1543.3 189 1544.7 189.8 1545.4 190.8 1546.6 191.8 1549.3 192.4 1554.5 192.5 1561.2 192.4 1568.4 192.1 1574.7 192 1580 192 1584.9 192 1589.3 192.1 1592.9 192.4 1595.4 193.2 1597.1 194.3 1598.5 195 1600.1 194.8 1602.2 192.8 1604.4 189.6 1606.6 186.4 1608.6 184.5 1610.2 184.3 1611.4 185.2 1612.8 186.5 1614.7 187.5 1617.3 188.2 1620.4 189 1623.7 189.6 1626.8 189.9 1629.8 189.7 1632.9 189.3 1635.6 188.6 1637.7 188.1 1638.7 187.6 1638.9 187 1639.1 186.5 1640.1 186.3 1642.3 186.3 1645.2 186.6 1648.3 187 1651 187.5 1653.1 188.2 1655 189 1656.9 189.9 1659.4 190.5 1662.8 190.9 1666.9 191.2 1670.9 191.3 1674 191.1 1675.8 190.2 1676.9 188.9 1677.7 187.6 1678.8 186.9 1680.5 186.9 1682.3 187.3 1684.2 188 1686.1 188.7 1687.8 189.5 1689.5 190.6 1691.3 191.6 1693.3 192.4 1695.7 192.9 1698.3 193.1 1700.9 193.3 1703 193.6 1704.5 194.1 1705.5 194.7 1706.5 195.2 1707.9 195.4 1709.9 195.2 1712.3 194.8 1714.5 194.2 1716.3 193.6 1717.1 192.9 1717.4 192.2 1717.7 191.5 1718.7 191.1 1720.8 191.1 1723.5 191.3 1726.4 191.7 1728.8 192.2 1730.3 193.1 1731.2 194.2 1732.5 195.3 1735.1 196 1739.7 196 1745.7 195.6 1752 195.1 1757.8 194.8 1763 194.8 1768.1 194.9 1772.7 195.1 1776.7 195.4 1779.8 196.1 1782.1 197.2 1784.1 197.9 1786.2 197.7 1788.4 196 1790.4 193.1 1792.4 190.3 1794.4 188.5 1796.4 188.2 1798.3 188.7 1800.2 189.6 1802 190.3 1803.7 190.6 1805.3 190.9 1806.8 191.2 1808.3 191.6 1809.6 192.1 1810.6 192.7 1811.8 193.3 1813.3 193.5 1815.3 193.3 1817.8 192.8 1820.2 192.2 1822.1 191.6 1823.3 191.1 1824 190.5 1824.7 190 1825.9 189.7 1827.9 189.7 1830.3 189.8 1832.7 190.2 1834.7 190.6 1835.9 191.2 1836.5 192.1 1837.2 192.9 1838.5 193.5 1840.7 193.8 1843.5 194 1846.3 194.1 1848.6 194.4 1850.1 194.9 1851.2 195.6 1852.2 196.3 1853.6 196.6 1855.7 196.6 1858.2 196.3 1860.6 195.9 1862.5 195.4 1863.5 194.6 1863.9 193.6 1864.4 192.7 1865.6 192.2 1867.9 192.3 1870.8 192.7 1873.8 193.4 1876.3 194.1 1877.5 194.9 1877.9 195.9 1878.8 196.8 1881.4 197.3 1886.4 197.3 1893 197 1900.1 196.6 1906.6 196.4 1912.6 196.6 1918.6 196.9 1923.9 197.3 1928 197.7 1930.4 198.3 1931.4 199.1 1932 199.6 1933.1 199.2 1934.8 197.4 1936.8 194.6 1938.8 191.9 1940.6 190.1 1942.1 189.8 1943.4 190.2 1944.9 191.1 1946.9 191.9 1949.9 192.6 1953.6 193.5 1957.1 194.3 1959.5 194.8" stroke="#222" stroke-width="2.5"/>
<path d="M1093.2 315.4L1095.2 315.3 1097.2 314.1 1098.8 314.1 1099.2 314.3 1101.2 314.9 1103.2 314.9 1105.2 314.8 1107.2 315.5 1108.9 316.1 1109.2 315.6 1111.2 317.8 1112.7 318.6 1113.2 318.7 1115.2 319.1 1117.2 318.8 1119.2 319.2 1121.2 320.1 1122.8 319.7 1123.2 320 1125.2 321.6 1125.3 322.2 1127.2 321.4 1129.2 320.5 1131.2 319.2 1133.2 318 1135.2 316.9 1135.4 316.6 1137.2 317.1 1139.2 316.8 1141.2 317.3 1143.2 317 1145.2 316.6 1145.5 317.1 1147.2 318 1149.2 318.9 1150.5 319.6 1151.2 319.1 1153.2 318.4 1155.2 317.5 1157.2 316.6 1158.1 315.8 1159.2 316.2 1161.2 316.8 1163.2 316.9 1165.2 317.7 1167.2 317.3 1169.2 317.8 1169.4 317.8 1171.2 316.5 1173.2 315.4 1175.2 314.2 1176.4 313.4 1177.2 313.4 1179.2 313.8 1181.2 314.3 1183.2 314.2 1183.3 314.7 1185.2 316.7 1185.8 317.8 1187.2 317.6 1189.2 318.3 1191.2 318.5 1193.2 318.8 1195.2 318.9 1195.9 319.3 1197.2 319.6 1199.2 318 1201.2 318.3 1203.2 317.8 1205.2 317.2 1207.2 316.4 1208.5 316.8 1209.2 317.1 1211.2 318.4 1213.2 319.1 1215.2 320.1 1217.2 321.8 1218.6 322.3 1219.2 321.8 1221.2 320.8 1222.4 320.4 1223.2 320.1 1225.2 320.2 1226.2 320.6 1227.2 320.3 1229.2 319 1231.2 317.5 1232.5 316.7 1233.2 316.7 1235.2 316.9 1237.2 318.3 1239.2 317.7 1241.2 318.5 1242.5 318.6 1243.2 318.5 1245.2 318.4 1247.2 318.4 1249.2 318.2 1251.2 317.6 1251.4 317.8 1253.2 319.2 1255.2 319.8 1257.2 319.7 1259.2 320 1261.2 319.8 1263.2 319.9 1265.2 320.3 1267.2 321.1 1269.2 320.5 1271.2 320.2 1272.8 321 1273.2 320.8 1275.2 321.3 1277.2 321.4 1279.2 320.9 1281.2 321 1282.9 320.9 1283.2 321.6 1285.2 322.3 1287.2 323.8 1289.2 326 1290.5 325.9 1291.2 325.9 1293.2 325.5 1295.2 325.3 1297.2 324.9 1299.2 324.9 1299.3 324.5 1301.2 326.3 1301.8 326.5 1303.2 326.3 1305.2 325.1 1307.2 325.4 1309.2 324.3 1311.2 324.1 1311.9 323.5 1313.2 323.3 1315.2 322.9 1316.9 322.7 1317.2 322.8 1319.2 324.3 1321.2 326.1 1322 326.8 1323.2 325.8 1325.2 324.3 1327.2 322.9 1329.2 322.7 1330.8 320.9 1331.2 320.7 1333.2 321.7 1335.2 321.7 1337.2 321.8 1339.2 322.5 1340 322.4 1341.2 321.8 1343.2 322.3 1345.2 321.8 1347.2 321.7 1349.2 320.9 1351.2 321.4 1353.2 321 1355.2 319.4 1356.2 320.3 1357.2 321.9 1358.2 322.6 1359.2 322.8 1361.2 322.6 1363.2 322.8 1365.2 322.6 1367.2 311.7 1369.2 306.2 1369.7 304.5 1371.2 310.3 1372.3 314.4 1373.2 322.4 1373.3 323 1375.2 323.3 1377.2 323.3 1379.2 324.6 1381.2 324 1383.2 324.7 1384.3 324.3 1385.2 324.4 1387.2 324.8 1389.2 324.8 1391.2 325.8 1393.2 325.1 1395.2 325.9 1397.2 325.2 1398.4 325.6 1399.2 325.8 1401.2 324.8 1403.2 325.6 1405.2 324.8 1407.2 324.3 1409.2 324.5 1410.5 323.6 1411.2 323.4 1413.2 322.8 1415.2 323 1417.2 323.6 1419.2 323 1419.6 323.8 1421.2 315.2 1421.6 312.6 1423.2 286.3 1423.6 280.3 1425.2 252.6 1425.6 246.3 1427 238.2 1427.2 239.3 1428.6 248.2 1429.2 259.1 1430.6 284.5 1431.2 295.6 1432.7 324.6 1433.2 326 1434.7 328.8 1435.2 328.7 1437.2 327.9 1439.2 327.5 1440.7 326.8 1441.2 325.8 1443.2 324 1445.2 321.2 1445.7 320.2 1447.2 321.8 1449.2 323.7 1450.8 325.6 1451.2 325.3 1453.2 324.7 1455.2 324.6 1457.2 324.5 1459.2 324 1460.8 323.6 1461.2 323.8 1463.2 324.4 1465.2 325.1 1467.2 326.6 1469.2 326.7 1470.9 327.8 1471.2 327.1 1473.2 327.9 1475.2 327.7 1477.2 328.3 1479.2 328.3 1481.2 327.9 1483.2 328.5 1485.2 328.9 1487.2 329 1489.2 329.1 1491 328.7 1491.2 329.5 1493.2 329 1495.2 329.7 1497.2 329.7 1499.2 330.7 1501.2 330.7 1503.1 331.7 1503.2 331.1 1505.2 332.9 1507.2 333 1509.2 333.8 1511.2 334.1 1513.2 334.3 1515.2 334.8 1517.2 333.8 1519.2 332.1 1521.2 331.3 1523.2 330.6 1525.2 329.8 1527.2 329.7 1529.2 330.6 1531.2 330.8 1533.2 331.7 1535.2 332.1 1537.2 331.9 1539.2 332.3 1539.3 332.9 1541.2 332.3 1543.2 331.2 1545.2 330.7 1547.2 329.6 1549.2 329 1549.4 328.7 1551.2 328.8 1553.2 329.1 1555.2 328.9 1557.2 328.7 1559.2 328.1 1561.2 328.3 1563.2 327.7 1565.2 327.6 1565.5 327.7 1567.2 327.6 1569.2 328.4 1570 328.3 1571.2 329.5 1573.2 330.1 1575.2 330.7 1575.6 330.6 1577.2 330.8 1579.2 331.1 1581.2 331 1583.2 331.8 1583.9 331.9 1585.2 332.1 1587.2 331.9 1589.2 331.6 1591.2 330.3 1593.2 329.9 1595.2 330.6 1597.2 330 1597.9 329.7 1599.2 330.5 1601.2 331.5 1603.2 333.2 1605.2 333.9 1607.2 334.9 1609.2 335.4 1609.5 335.9 1611.2 335.6 1613.2 334.4 1615.2 333.6 1617.2 332.4 1619.2 331.8 1621.2 330.4 1623.2 329.6 1623.4 329.7 1625.2 330.4 1627.2 329.9 1629.2 330.2 1631.2 330.4 1633.2 330.6 1635.2 330.9 1637.2 331.4 1639.2 331.4 1641.2 331.5 1643.2 331.9 1645.2 331.4 1645.5 332 1647.2 326.5 1649 319.1 1649.2 316.2 1651.2 288.6 1652.5 270.5 1653.2 261.1 1654.8 240.1 1655.2 239.5 1656.4 234.9 1657.2 237.9 1658.3 242.4 1659.2 254.2 1661.2 283.4 1661.8 291.5 1663.2 309.8 1664.8 332 1665.2 332 1667.2 333 1669.2 333.3 1671.2 334.2 1672.2 334.4 1673.2 334.8 1675.2 335.8 1677.2 337.3 1679.2 337.8 1681.2 339 1681.5 338.9 1683.2 339.1 1685.2 339.3 1687.2 338.6 1689.2 338.3 1691.2 338.1 1693.2 338.6 1695.2 337.8 1697.2 338.1 1699.2 338.7 1700.1 337.8 1701.2 338.7 1703.2 338.4 1705.2 338.8 1707.2 339.4 1709.2 339.3 1711.2 339.2 1711.7 340.1 1713.2 339.2 1715.2 338.8 1717.2 338.6 1719.2 337.3 1721.2 335.7 1723.2 335.6 1723.3 335.2 1725.2 334.4 1727.2 335.7 1729.2 334.4 1731.2 333.8 1733.2 334.3 1735.2 334 1737.2 334 1739.2 333.6 1741.2 333.4 1743.2 333.5 1744.2 333.1 1745.2 333 1747.2 333.7 1749.2 333.7 1751.2 334.5 1753.2 334.5 1755.2 334.7 1757.2 334.9 1759.2 335.6 1761.2 336 1763.2 335.9 1765.2 335.5 1767.2 336.9 1767.4 336.5 1769.2 336.8 1771.2 336.3 1773.2 336.6 1775.2 336.3 1777.2 336.1 1779.2 335.9 1780.8 336.3 1781.2 336.6 1783.2 337.1 1785.2 338 1787.2 340.1 1787.3 340.3 1789.2 339.1 1791.2 338.5 1793.2 337.4 1795.2 336.6 1797.1 336.5 1797.2 335.7 1799.2 336.3 1801.2 335.9 1803.2 336.3 1805.2 336.6 1807.2 336.1 1809.2 335.8 1811.2 336.3 1813.2 335.7 1813.3 335.6 1815.2 336.5 1817.2 336 1819.2 336.4 1821.2 337.3 1823.2 337 1824.2 336.8 1825.2 337.5 1827.2 336.8 1829.2 336.7 1830.7 337.3 1831.2 337.1 1833.2 335.7 1835.2 334 1836.1 333.8 1837.2 335.6 1839.2 338.4 1840.4 340 1841.2 339.8 1843.2 339.2 1845.2 338.3 1847.2 338.7 1848 337.6 1849.2 338 1851.2 338.4 1853.2 338.4 1855.2 340 1856.7 340 1857.2 340.6 1859.2 340.9 1861.2 340.8 1863.2 341.8 1864.3 342 1865.2 341.9 1867.2 341.9 1869.2 341.9 1871.2 341.8 1873.2 342.1 1875.2 342 1877.2 341.7 1878.3 341.7 1879.2 341.6 1881.2 341.7 1883.2 341.9 1885.2 342.2 1887.2 342.1 1889.2 342.1 1891.2 343.7 1893.2 344.8 1893.5 345.3 1895.2 346.3 1897.2 346 1899.2 344.9 1901.2 345.3 1902.2 346.1 1903.2 346.7 1904.9 348.3 1905.2 347.7 1907.2 347.2 1909.2 345.8 1911.2 344.9 1913.2 343.7 1914.1 343.3 1915.2 343.2 1917.2 343.2 1919.2 343.8 1921.2 344.2 1923.2 343.5 1925.2 343.8 1926 344.1 1927.2 344.1 1929.2 345.1 1930.3 346.1 1931.2 345.8 1933.2 344.4 1935.2 343.6 1937.2 342.1 1937.9 341.7 1939.2 342 1941.2 342.5 1943.2 342.8 1945.2 343.7 1947.2 343.8 1948.8 344.1 1949.2 343.6 1951.2 342.3 1953.2 341.3 1955.2 340.4 1956.3 339.9 1957.2 340.1 1959.2 341.2 1960.7 341.7" stroke="#f20d0d" stroke-width="2.4"/>
<path d="M1093.5 464.7L1095.3 464.5 1097.1 464.3 1098.9 463.8 1100.7 464 1102.5 463.7 1103.9 463.8 1104.3 463 1106.1 465.2 1107.9 461.8 1109.7 463.9 1111.5 464.5 1113.3 463.9 1115.1 463.6 1116.9 464.1 1118.7 464.7 1120.2 464.5 1120.5 463.4 1122.3 464.6 1124.1 464.2 1125.9 465.4 1127.7 464.6 1129.5 465.2 1131.3 465.9 1133 465.3 1133.1 465.5 1134.9 463.7 1136.7 462.9 1138.5 460.7 1140.3 460.3 1142.1 459.3 1143.4 458.8 1143.9 460.1 1145.7 457 1147.5 456.6 1149.3 457.8 1151.1 457.7 1152.9 457.1 1154.7 457.3 1155 457 1156.5 455 1158.3 453 1160.1 452.2 1161.9 451.6 1162 450.9 1163.7 445.4 1164.3 443.8 1165.5 431.2 1166.7 418 1167.3 411.8 1169 392.5 1169.1 392.1 1170.6 386.1 1170.9 388 1172.7 399.4 1173.6 404.2 1174.5 412.6 1176.3 429.5 1176.4 430 1178.1 437.3 1178.3 438.8 1179.9 424.2 1180.6 418.2 1181.7 387.4 1182.5 365.1 1183.5 353.2 1184.5 342.7 1185.3 346 1187.1 353 1188.9 380.1 1189.9 395.2 1190.7 405 1192.5 431.2 1193.4 443.7 1194.3 449.2 1196.1 456.7 1196.9 460.2 1197.9 460.3 1199.7 460.3 1201.5 461.5 1203.3 462.2 1205.1 462.6 1206.1 463.2 1206.9 463.4 1208.7 462.5 1210.5 462.9 1212.3 463.5 1214.1 462.7 1215.4 463.6 1215.9 463.4 1217.7 464.5 1219.5 465.1 1221.3 465.3 1223.1 467.2 1224.7 466.9 1224.9 467.6 1226.7 468.7 1228.5 470.8 1230.3 473.1 1231.7 475.1 1232.1 475.6 1233.9 473.8 1235.7 475.4 1237.5 473.3 1239.3 474.6 1241.1 473.4 1242.9 472.6 1243.3 473 1244.7 472.4 1246.5 472.6 1248.3 472.5 1250.1 474.1 1251.9 471.5 1253.7 473.2 1255.5 471.6 1257.2 471.6 1257.3 471.4 1259.1 473.2 1260.9 473 1262.7 473.3 1264.5 474.9 1266.3 475.4 1268.1 476.6 1268.9 476.1 1269.9 476.9 1271.7 476.2 1273.5 474.5 1275.3 474.3 1277.1 474.3 1278.9 473.3 1280 473.3 1280.7 473.2 1282.5 472.1 1284.3 470.7 1286.1 469.5 1287 470.4 1287.9 470.1 1289.7 472.6 1291.5 474 1293.3 474 1293.9 474.4 1295.1 474.5 1296.9 473.6 1298.7 471.7 1300.2 471.6 1300.5 471.9 1302.3 474.7 1303.7 476.5 1304.1 476.6 1305.9 476.7 1307.7 475 1309.5 474.6 1311.3 473.3 1313.1 473.2 1313.4 473.4 1314.9 475.1 1316.7 475.8 1318.5 476.5 1319 477.8 1320.3 475.6 1322.1 475.8 1323.9 474.9 1325.7 474.7 1326 474.7 1327.5 474.5 1329.3 477.3 1331.1 476.6 1332.9 476.1 1334.7 475.5 1335.7 475.7 1336.5 477.6 1338.3 479.4 1340.1 481.2 1341.3 482.6 1341.9 482.5 1343.7 481 1345.5 480.4 1347.3 481 1349.1 481 1349.7 481 1350.9 482.9 1352.7 485.5 1353.2 486.2 1354.5 484.3 1356.3 481.2 1356.6 480.1 1358.1 479.4 1359.9 479.5 1361.7 478.9 1363.5 479.4 1365.3 478.3 1367.1 479 1367.8 478.6 1368.9 479.7 1370.7 481.9 1372.5 480.7 1374.3 482.4 1374.8 483.1 1376.1 482.1 1377.9 480.2 1379.7 478.9 1380.3 478 1381.5 477 1383.3 476 1385.1 477 1386.9 476.8 1388.7 477.7 1390.5 477 1391.5 476.4 1392.3 477.5 1394.1 477.6 1395.9 480.3 1397.7 480.1 1397.8 481 1399.5 479.1 1401.3 476.8 1403.1 475.9 1404 474.2 1404.9 472.8 1406.7 474.7 1408.5 473.9 1409.6 474.5 1410.3 476.6 1411.7 480.3 1412.1 480.1 1413.9 478.5 1415.7 477.8 1417.5 476.7 1419.3 476.4 1420.7 475.9 1421.1 477.4 1422.9 480.8 1423.5 482.9 1424.7 483.8 1426.5 483 1428.3 482.7 1430.1 483.6 1431.9 482.4 1433.3 483 1433.7 483.5 1435.5 481.8 1437.3 480 1439.1 478.7 1440.3 478 1440.9 479.9 1442.7 482.9 1444.5 485.3 1445.8 486.4 1446.3 486.5 1448.1 485.5 1449.9 485.1 1451.7 485.9 1453.5 485.7 1455.3 484.2 1455.6 484.8 1457.1 483.2 1458.9 479.8 1459.8 479.7 1460.7 479.9 1462.5 477.9 1464.3 477.9 1466.1 478.1 1466.7 477.6 1467.9 477.8 1469.7 478.5 1471.5 479.2 1473.3 480.4 1475.1 481 1476.9 480.2 1478.7 479.6 1480.5 479.4 1480.7 479.4 1482.3 480.4 1484.1 481.3 1484.8 482.7 1485.9 482.7 1487.7 481.6 1489.5 481.6 1491.3 480.4 1493.1 479.9 1493.2 479.6 1494.9 480.1 1496.7 483.9 1497.4 484.5 1498.5 483.2 1500.3 482.4 1502.1 482.5 1503.9 482.5 1505.7 482.3 1507.5 482.1 1509.3 483.8 1509.9 484.1 1511.1 483.9 1512.9 483.1 1514.7 482.6 1515.5 482.2 1516.5 483.2 1518.3 486.2 1520.1 487.2 1521.1 489.2 1521.9 488.6 1523.7 488.4 1525.5 487.7 1527.3 488.6 1529.1 488 1530.1 487.2 1530.9 489.9 1532.7 492.1 1533.2 493.3 1534.5 489.7 1536.3 486.4 1536.4 486.5 1538.1 487.5 1539.9 486.5 1541.7 485.4 1543.5 485.5 1545.3 484.9 1546.5 484.8 1547.1 484.5 1548.9 486.5 1550.7 487.1 1552.5 487.2 1554 488.6 1554.3 489.1 1556.1 489 1557.8 489.1 1557.9 489.4 1559.7 487.5 1561.5 486.3 1562.9 483.4 1563.3 483.7 1565.1 483.5 1566.9 483.2 1568.7 483.5 1570.5 482.6 1571.7 483.3 1572.3 483.1 1574.1 485.5 1575.9 486.4 1577.4 487.7 1577.7 487.2 1579.5 485.6 1581.3 482.8 1583 480.5 1583.1 482.3 1584.9 480.7 1586.7 481.5 1588.5 480.3 1589.3 480.9 1590.3 484 1591.2 486.6 1592.1 485.9 1593.9 486.7 1595.7 484.4 1597.5 483.9 1599.3 484.8 1599.4 483.5 1601.1 485 1602.9 489.1 1603.2 489.3 1604.7 490.3 1606.5 491.1 1608.3 490.3 1610.1 491.4 1611.9 491.1 1613.7 490.9 1614.6 491.5 1615.5 490.4 1617.3 488.5 1619.1 489 1620.9 486.5 1622.7 487.7 1624.5 490.5 1626.3 491.7 1627.8 494.4 1628.1 495.2 1629.9 493.5 1631.7 492.3 1633.5 491.4 1634.7 491.2 1635.3 492.2 1637.1 494 1637.9 494.1 1638.9 492.9 1640.7 489.3 1642.3 487.9 1642.5 488.4 1644.3 487.9 1646.1 486.1 1647.9 485.3 1648.6 486.4 1649.7 486.5 1651.5 487.3 1653.3 488.5 1655.1 489.1 1656.2 489.9 1656.9 490 1658.7 488.8 1660.5 488 1662.3 488.2 1662.5 487.9 1664.1 490.4 1665.9 491 1666.2 491.5 1667.7 491.4 1669.5 490.9 1671.3 489.6 1673.1 488.6 1674.9 487.5 1675.1 488.3 1676.7 489.2 1678.5 490.1 1680.1 492.3 1680.3 492.4 1682.1 491.5 1683.9 492.5 1685.7 490.7 1687.5 490.5 1688.9 490.5 1689.3 490.9 1691.1 490.3 1692.9 490.8 1694.7 490.8 1696.5 491.4 1698.3 491.5 1699 491.4 1700.1 492.5 1701.9 496.5 1702.8 497.7 1703.7 497.4 1705.5 496.4 1707.3 496 1709.1 497.5 1710.9 497.5 1712.7 496.8 1712.9 496.1 1714.5 499.4 1715.4 502 1716.3 500.1 1718.1 496.7 1719.2 495.1 1719.9 495 1721.7 495 1723.5 494.3 1725.3 495.5 1727.1 493.8 1728 494.4 1728.9 494.6 1730.7 495 1732.5 496.3 1734.3 495.7 1736.1 498 1736.8 497.3 1737.9 496.3 1739.7 495.6 1741.5 494 1741.9 493.4 1743.3 493.9 1745.1 492.4 1746.9 492.8 1748.7 491.9 1750.5 492.1 1752.3 492.3 1753.2 491.7 1754.1 491.7 1755.9 494.2 1757.7 495.2 1759.5 495.9 1761.3 494.2 1763.1 492.6 1764.9 492.9 1766.2 490.2 1766.7 491.1 1768.5 490.3 1770.3 490.2 1771.8 489.5 1772.1 489.2 1773.6 495.1 1773.9 495.1 1775.7 493.7 1777.5 494.4 1779.3 492.7 1781.1 491.9 1782.3 491 1782.9 493.1 1784.7 496.5 1786 497.9 1786.5 497.3 1788.3 498.5 1790.1 496.8 1791.9 497.5 1793.4 497.1 1793.7 498.4 1795.5 500.1 1795.9 500.8 1797.3 499.6 1799.1 497.5 1800.9 497.6 1802.7 499.9 1804.5 500.4 1804.6 500.7 1806.3 498.5 1808.1 496.6 1809.5 494.6 1809.9 495 1811.7 493.2 1813.5 492.1 1815.3 493.3 1815.7 492.5 1817.1 493.4 1818.9 495.5 1820.7 495.3 1821.9 496.7 1822.5 496.2 1824.3 494.4 1826.1 495.1 1827.9 494.6 1828.1 494.5 1829.7 495.9 1831.5 499.3 1832.5 499.1 1833.3 499 1835.1 497.4 1836.9 497 1838.7 496.6 1840.5 496.5 1841.7 494.8 1842.3 496.5 1844.1 498.4 1845.9 499.8 1846.7 500.5 1847.7 499.7 1849.5 499.4 1851.3 499.7 1853.1 498.7 1854.9 498.5 1855.4 497.7 1856.7 498 1858.5 499.8 1860.3 500.4 1862.1 500.3 1863.9 498.7 1865.3 497.3 1865.7 498.7 1867.5 499.6 1869.3 504.2 1870.2 504.3 1871.1 503.6 1872.9 504.7 1874.7 504.1 1876.5 503.6 1878.3 504.2 1878.9 503.1 1880.1 505.4 1881.9 508 1882.6 508.8 1883.7 506.3 1885.1 502.6 1885.5 501.3 1887.3 501.9 1889.1 501.9 1890.9 501 1892.7 501.8 1894.5 500.7 1896.2 500.5 1896.3 501.1 1898.1 501.4 1899.9 502.9 1901.7 504.3 1902.4 504.9 1903.5 505 1905.3 505.2 1907.1 504 1907.4 504.5 1908.9 502.2 1910.7 499.9 1911.1 499.3 1912.5 499.7 1914.3 498.9 1916.1 498.8 1917.9 498.4 1919.7 498.1 1921 498.6 1921.5 498.8 1923.3 499.8 1925.1 503 1926 503.5 1926.9 501.8 1928.7 500.7 1930.5 497.9 1932.2 496.4 1932.3 496.9 1934.1 496 1935.9 496.1 1937.7 496.6 1938.3 497.1 1939.5 500 1940.8 502.4 1941.3 502.3 1943.1 502.3 1944.9 500.3 1946.7 498.2 1948.3 498.3 1948.5 497.8 1950.3 501.4 1952 504.9 1952.1 505.6 1953.9 505.9 1955.7 505.2 1957.5 504.8 1959.3 503.4 1959.4 504.1" stroke="#13ab50" stroke-width="2.9"/>
</g>
<g fill="#0a0a0a">
<rect x="92.5" y="5" width="3" height="525"/>
<rect x="92.5" y="5" width="877.5" height="5"/>
<rect x="965" y="5" width="5" height="525"/>
<rect x="92.5" y="521.5" width="877.5" height="6"/>
<rect x="154.8" y="527" width="3.6" height="10.5"/>
<rect x="280.1" y="527" width="3.6" height="10.5"/>
<rect x="404.4" y="527" width="3.6" height="10.5"/>
<rect x="529.3" y="527" width="3.6" height="10.5"/>
<rect x="655.1" y="527" width="3.6" height="10.5"/>
<rect x="779.2" y="527" width="3.6" height="10.5"/>
<rect x="903.7" y="527" width="3.6" height="10.5"/>
<rect x="218" y="527" width="3.6" height="4.5"/>
<rect x="342.9" y="527" width="3.6" height="4.5"/>
<rect x="467.6" y="527" width="3.6" height="4.5"/>
<rect x="592" y="527" width="3.6" height="4.5"/>
<rect x="716.5" y="527" width="3.6" height="4.5"/>
<rect x="841.1" y="527" width="3.6" height="4.5"/>
</g>
<rect x="95.5" y="10" width="1.5" height="511.5" fill="#2c4270"/>
<rect x="95.5" y="10" width="869.5" height="1.3" fill="#2c4270" opacity="0.6"/>
<rect x="963.5" y="10" width="1.5" height="511.5" fill="#2c4270" opacity="0.7"/>
<rect x="97" y="518" width="866.5" height="3.5" fill="#93a5cb"/>
<g fill="#0a0a0a">
<rect x="1088" y="3.7" width="4.6" height="521"/>
<rect x="1088" y="3.7" width="877" height="5.2"/>
<rect x="1960.2" y="3.7" width="4.8" height="521.3"/>
<rect x="1088" y="517.8" width="877" height="7"/>
<rect x="1088.4" y="524" width="3.4" height="30.8"/>
<rect x="1195.6" y="524" width="3.4" height="30.8"/>
<rect x="1305.5" y="524" width="3.4" height="30.8"/>
<rect x="1415.4" y="524" width="3.4" height="30.8"/>
<rect x="1524.1" y="524" width="3.4" height="30.8"/>
<rect x="1632.8" y="524" width="3.4" height="30.8"/>
<rect x="1741.3" y="524" width="3.4" height="30.8"/>
<rect x="1850.9" y="524" width="3.4" height="30.8"/>
<rect x="1960.3" y="524" width="3.4" height="30.8"/>
</g>
<rect x="1094" y="9" width="1.8" height="225" fill="#2c4270"/>
<rect x="1094" y="389" width="1.8" height="129" fill="#2c4270"/>
<rect x="1071" y="4.6" width="1" height="123.5" fill="#ebebeb"/>
<rect x="705" y="17.6" width="250.5" height="133" fill="none" stroke="#0a0a0a" stroke-width="3"/>
<g stroke-width="3">
<line x1="710" y1="41.5" x2="784" y2="41.5" stroke="#0a0a0a"/>
<line x1="710" y1="83.8" x2="784" y2="83.8" stroke="#f20d0d"/>
<line x1="710" y1="127.5" x2="784" y2="127.5" stroke="#13ab50"/>
</g>
<rect x="1727.4" y="18.3" width="226.2" height="135" fill="none" stroke="#0a0a0a" stroke-width="3.8"/>
<g stroke-width="3.4">
<line x1="1737" y1="42.1" x2="1799.5" y2="42.1" stroke="#0a0a0a"/>
<line x1="1737" y1="85.5" x2="1799.5" y2="85.5" stroke="#f20d0d"/>
<line x1="1737" y1="128.8" x2="1799.5" y2="128.8" stroke="#13ab50"/>
</g>
<g font-family="'Liberation Serif', 'Times New Roman', serif" fill="#111">
<text transform="translate(6.14 53.24) scale(0.6196 0.6583)" font-size="100" font-weight="bold">a</text>
<text transform="translate(36.25 52.60) scale(0.7154 0.6189)" font-size="100" font-weight="bold">)</text>
<text transform="translate(1008.67 51.96) scale(0.6314 0.6371)" font-size="100" font-weight="bold">b</text>
<text transform="translate(1041.81 51.10) scale(0.7308 0.6333)" font-size="100" font-weight="bold">)</text>
<text transform="translate(59.34 397.53) scale(0.3744 0.3773) rotate(-90)" font-size="100" font-weight="bold">Intensity (a.u.)</text>
<text transform="translate(1071.74 408.86) scale(0.2789 0.3532) rotate(-90)" font-size="100" font-weight="bold">Intensity (a.u.)</text>
<text transform="translate(456.56 608.16) scale(0.3856 0.3733)" font-size="100" font-weight="bold">2<tspan font-size="94" dy="2">θ</tspan><tspan font-weight="normal" dy="-2"> (°)</tspan></text>
<text transform="translate(1417.83 635.03) scale(0.2362 0.2937)" font-size="100" font-weight="bold">Raman shift (cm<tspan font-size="60" dy="-35">-1</tspan><tspan dy="35">)</tspan></text>
<text transform="translate(796.08 45.80) scale(0.2111 0.2333)" font-size="100" font-weight="bold">MoS<tspan font-size="55" dy="17.5">2</tspan><tspan dy="-17.5">-Graphene</tspan></text>
<text transform="translate(794.84 92.98) scale(0.2121 0.2344)" font-size="100" font-weight="bold">Graphene</text>
<text transform="translate(796.17 140.38) scale(0.2126 0.2345)" font-size="100" font-weight="bold">MoS<tspan font-size="55" dy="17.5">2</tspan></text>
<text transform="translate(1810.63 48.51) scale(0.1868 0.2233)" font-size="100" font-weight="bold">MoS<tspan font-size="55" dy="17.5">2</tspan><tspan dy="-17.5">-Graphene</tspan></text>
<text transform="translate(1810.08 94.79) scale(0.1845 0.2244)" font-size="100" font-weight="bold">Graphene</text>
<text transform="translate(1811.22 142.96) scale(0.1915 0.2631)" font-size="100" font-weight="bold">MoS<tspan font-size="55" dy="17.5">2</tspan></text>
<text transform="translate(333.63 227.10) scale(0.2173 0.2333)" font-size="100" font-weight="bold">(002)</text>
<text transform="translate(182.34 400.15) scale(0.2139 0.2167)" font-size="100" font-weight="bold">(002)</text>
<text transform="translate(421.93 361.38) scale(0.2178 0.2200)" font-size="100" font-weight="bold">(100)</text>
<text transform="translate(499.93 408.40) scale(0.2168 0.2189)" font-size="100" font-weight="bold">(103)</text>
<text transform="translate(746.84 423.45) scale(0.2138 0.2167)" font-size="100" font-weight="bold">(110)</text>
<text transform="translate(859.25 462.94) scale(0.2130 0.2078)" font-size="100" font-weight="bold">(201)</text>
<text transform="translate(1432.81 240.02) scale(0.2221 0.2467)" font-size="100" font-weight="bold">(G)</text>
<text transform="translate(1663.92 237.37) scale(0.2194 0.2444)" font-size="100" font-weight="bold">(2D)</text>
<text transform="translate(1132.73 123.10) scale(0.1850 0.2769)" font-size="100" font-weight="bold">E</text>
<text transform="translate(1147.78 109.10) scale(0.1270 0.1576)" font-size="100" font-weight="bold">1</text>
<text transform="translate(1147.61 129.73) scale(0.1474 0.1793)" font-size="100" font-weight="bold">2g</text>
<text transform="translate(1194.50 87.70) scale(0.2042 0.2652)" font-size="100" font-weight="bold">A</text>
<text transform="translate(1209.73 87.89) scale(0.1593 0.1529)" font-size="100" font-weight="bold">1g</text>
<text transform="translate(1129.79 399.20) scale(0.2033 0.2769)" font-size="100" font-weight="bold">E</text>
<text transform="translate(1145.51 384.10) scale(0.1243 0.1576)" font-size="100" font-weight="bold">1</text>
<text transform="translate(1145.31 404.86) scale(0.1463 0.1736)" font-size="100" font-weight="bold">2g</text>
<text transform="translate(1196.80 367.30) scale(0.2042 0.2727)" font-size="100" font-weight="bold">A</text>
<text transform="translate(1212.68 367.86) scale(0.1527 0.1402)" font-size="100" font-weight="bold">1g</text>
<text transform="translate(149.68 564.54) scale(0.2523 0.2279)" font-size="100" font-weight="bold">10</text>
<text transform="translate(277.59 564.54) scale(0.2533 0.2279)" font-size="100" font-weight="bold">20</text>
<text transform="translate(399.17 564.54) scale(0.2576 0.2279)" font-size="100" font-weight="bold">30</text>
<text transform="translate(522.56 564.54) scale(0.2442 0.2279)" font-size="100" font-weight="bold">40</text>
<text transform="translate(650.82 564.54) scale(0.2446 0.2279)" font-size="100" font-weight="bold">50</text>
<text transform="translate(779.07 564.54) scale(0.2441 0.2279)" font-size="100" font-weight="bold">60</text>
<text transform="translate(900.05 564.54) scale(0.2578 0.2279)" font-size="100" font-weight="bold">70</text>
<text transform="translate(1085.20 584.20) scale(0.2500 0.3015)" font-size="100" font-weight="normal">0</text>
<text transform="translate(1176.82 586.19) scale(0.2464 0.3074)" font-size="100" font-weight="normal">500</text>
<text transform="translate(1281.48 586.19) scale(0.2358 0.3074)" font-size="100" font-weight="normal">1000</text>
<text transform="translate(1383.49 585.38) scale(0.2455 0.3088)" font-size="100" font-weight="normal">1500</text>
<text transform="translate(1495.94 585.38) scale(0.2391 0.3088)" font-size="100" font-weight="normal">2000</text>
<text transform="translate(1600.94 585.38) scale(0.2397 0.3088)" font-size="100" font-weight="normal">25000</text>
<text transform="translate(1713.30 584.88) scale(0.2403 0.3088)" font-size="100" font-weight="normal">3000</text>
<text transform="translate(1826.80 584.88) scale(0.2398 0.3088)" font-size="100" font-weight="normal">3500</text>
<text transform="translate(1932.53 584.88) scale(0.2366 0.3088)" font-size="100" font-weight="normal">4000</text>
</g></svg>
</body></html>
